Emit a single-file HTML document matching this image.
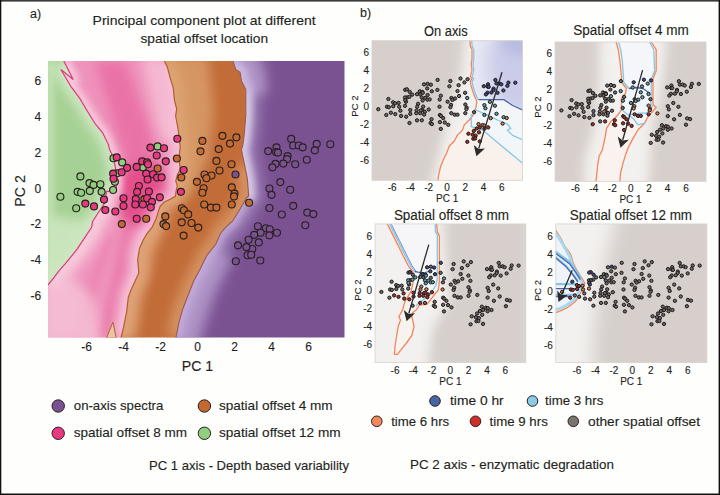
<!DOCTYPE html><html><head><meta charset="utf-8"><style>html,body{margin:0;padding:0;background:#fefefd;width:720px;height:495px;overflow:hidden}</style></head><body><svg width="720" height="495" viewBox="0 0 720 495" style="display:block;font-family:'Liberation Sans', sans-serif"><style>text{stroke:#231f20;stroke-width:0.12px;paint-order:stroke}</style>
<defs>
<filter id="bl6" filterUnits="userSpaceOnUse" x="0" y="0" width="720" height="495"><feGaussianBlur stdDeviation="6"/></filter>
<filter id="bl3" filterUnits="userSpaceOnUse" x="0" y="0" width="720" height="495"><feGaussianBlur stdDeviation="3"/></filter>
<filter id="bl9" filterUnits="userSpaceOnUse" x="0" y="0" width="720" height="495"><feGaussianBlur stdDeviation="9"/></filter>
<clipPath id="cpL"><rect x="48" y="61" width="296.5" height="276.5"/></clipPath>
</defs>
<rect x="0" y="0" width="720" height="495" fill="#fefefd"/>
<clipPath id="cG"><polygon points="40.0,55.0 63.8,61.0 73.2,79.5 60.9,69.5 71.0,86.7 79.6,98.2 88.2,112.5 95.3,124.0 102.5,132.6 108.2,144.1 109.7,149.8 112.5,155.5 115.4,167.0 116.8,184.2 115.4,191.4 106.5,191.4 105.5,197.7 104.4,203.6 97.1,214.5 92.5,221.8 91.6,227.3 84.4,238.2 77.1,249.1 69.8,258.2 65.3,263.6 58.9,270.9 53.5,278.2 48.0,285.0 40.0,285.0"/></clipPath>
<clipPath id="cP"><polygon points="40.0,55.0 63.8,61.0 73.2,79.5 60.9,69.5 71.0,86.7 79.6,98.2 88.2,112.5 95.3,124.0 102.5,132.6 108.2,144.1 109.7,149.8 112.5,155.5 115.4,167.0 116.8,184.2 115.4,191.4 106.5,191.4 105.5,197.7 104.4,203.6 97.1,214.5 92.5,221.8 91.6,227.3 84.4,238.2 77.1,249.1 69.8,258.2 65.3,263.6 58.9,270.9 53.5,278.2 48.0,285.0 40.0,285.0 40.0,345.0 121.0,338.0 123.4,327.9 126.7,311.7 128.3,297.2 130.7,290.7 138.8,272.9 137.7,260.0 138.3,255.8 139.5,248.5 143.2,240.0 146.8,233.9 152.0,227.5 156.0,219.0 158.1,212.4 160.1,206.4 164.1,202.3 170.2,199.3 175.3,196.3 176.3,190.2 177.3,186.2 175.8,181.1 177.3,175.0 180.2,169.6 179.1,158.0 180.2,146.4 179.1,137.1 177.9,127.8 175.6,116.1 176.7,109.2 174.4,99.9 173.3,88.2 169.8,76.6 167.4,67.3 164.4,61.0"/></clipPath>
<clipPath id="cB"><polygon points="164.4,61.0 167.4,67.3 169.8,76.6 173.3,88.2 174.4,99.9 176.7,109.2 175.6,116.1 177.9,127.8 179.1,137.1 180.2,146.4 179.1,158.0 180.2,169.6 177.3,175.0 175.8,181.1 177.3,186.2 176.3,190.2 175.3,196.3 170.2,199.3 164.1,202.3 160.1,206.4 158.1,212.4 156.0,219.0 152.0,227.5 146.8,233.9 143.2,240.0 139.5,248.5 138.3,255.8 137.7,260.0 138.8,272.9 130.7,290.7 128.3,297.2 126.7,311.7 123.4,327.9 121.0,338.0 175.9,338.0 179.2,321.4 182.4,310.0 188.0,295.5 193.7,281.0 200.2,268.9 206.7,255.6 210.0,251.4 216.0,243.8 220.6,233.2 225.2,227.9 232.7,221.0 240.2,208.8 246.4,198.0 248.7,195.7 247.3,178.5 244.4,164.1 241.5,149.8 243.0,144.1 244.4,132.6 245.8,115.4 245.8,89.6 241.5,81.0 240.1,72.3 235.8,69.5 232.9,61.0"/></clipPath>
<clipPath id="cV"><polygon points="232.9,61.0 235.8,69.5 240.1,72.3 241.5,81.0 245.8,89.6 245.8,115.4 244.4,132.6 243.0,144.1 241.5,149.8 244.4,164.1 247.3,178.5 248.7,195.7 246.4,198.0 240.2,208.8 232.7,221.0 225.2,227.9 220.6,233.2 216.0,243.8 210.0,251.4 206.7,255.6 200.2,268.9 193.7,281.0 188.0,295.5 182.4,310.0 179.2,321.4 175.9,338.0 350.0,345.0 350.0,55.0"/></clipPath>
<g clip-path="url(#cpL)">
<g clip-path="url(#cG)">
<rect x="40" y="55" width="200" height="290" fill="#a6d194"/>
<polyline points="63.8,61.0 73.2,79.5 60.9,69.5 71.0,86.7 79.6,98.2 88.2,112.5 95.3,124.0 102.5,132.6 108.2,144.1 109.7,149.8 112.5,155.5 115.4,167.0 116.8,184.2 115.4,191.4 106.5,191.4 105.5,197.7 104.4,203.6 97.1,214.5 92.5,221.8 91.6,227.3 84.4,238.2 77.1,249.1 69.8,258.2 65.3,263.6 58.9,270.9 53.5,278.2 48.0,285.0" fill="none" stroke="#e2f1d8" stroke-opacity="0.75" stroke-width="14" stroke-linejoin="round" filter="url(#bl6)"/>
<polyline points="50.0,61.0 50.0,290.0" fill="none" stroke="#cfe8c2" stroke-opacity="0.7" stroke-width="8" stroke-linejoin="round" filter="url(#bl3)"/>
<polygon points="48,215 95,222 60,270 48,284" fill="#d2e9c6" filter="url(#bl6)" opacity="0.8"/>
</g>
<g clip-path="url(#cP)">
<rect x="40" y="55" width="200" height="290" fill="#ef93bb"/>
<polygon points="95.0,61.0 125.0,61.0 150.0,130.0 165.0,200.0 150.0,230.0 128.0,215.0 125.0,160.0" fill="#e86aa0" filter="url(#bl6)" opacity="0.8"/>
<polygon points="128.0,205.0 146.0,205.0 116.0,337.0 100.0,337.0" fill="#e874a6" filter="url(#bl3)" opacity="0.75"/>
<polygon points="106.0,235.0 114.0,235.0 82.0,337.0 72.0,337.0" fill="#ea82ae" filter="url(#bl3)" opacity="0.6"/>
<ellipse cx="145" cy="195" rx="30" ry="32" fill="#e5508c" filter="url(#bl6)"/>
<polyline points="63.8,61.0 73.2,79.5 60.9,69.5 71.0,86.7 79.6,98.2 88.2,112.5 95.3,124.0 102.5,132.6 108.2,144.1 109.7,149.8 112.5,155.5 115.4,167.0 116.8,184.2 115.4,191.4 106.5,191.4 105.5,197.7 104.4,203.6 97.1,214.5 92.5,221.8 91.6,227.3 84.4,238.2 77.1,249.1 69.8,258.2 65.3,263.6 58.9,270.9 53.5,278.2 48.0,285.0" fill="none" stroke="#f9d0e0" stroke-opacity="0.85" stroke-width="12" stroke-linejoin="round" filter="url(#bl3)"/>
<polyline points="106.5,191.4 105.5,197.7 104.4,203.6 97.1,214.5 92.5,221.8 91.6,227.3 84.4,238.2 77.1,249.1 69.8,258.2 65.3,263.6 58.9,270.9 53.5,278.2 48.0,285.0" fill="none" stroke="#f7cadb" stroke-opacity="0.85" stroke-width="26" stroke-linejoin="round" filter="url(#bl6)"/>
<polyline points="164.4,61.0 167.4,67.3 169.8,76.6 173.3,88.2 174.4,99.9 176.7,109.2 175.6,116.1 177.9,127.8 179.1,137.1 180.2,146.4 179.1,158.0 180.2,169.6 177.3,175.0 175.8,181.1 177.3,186.2 176.3,190.2 175.3,196.3 170.2,199.3 164.1,202.3 160.1,206.4 158.1,212.4 156.0,219.0 152.0,227.5 146.8,233.9 143.2,240.0 139.5,248.5 138.3,255.8 137.7,260.0 138.8,272.9 130.7,290.7 128.3,297.2 126.7,311.7 123.4,327.9 121.0,338.0" fill="none" stroke="#f8cadd" stroke-opacity="0.85" stroke-width="18" stroke-linejoin="round" filter="url(#bl6)"/>
<polyline points="150.0,55.0 160.0,100.0 170.0,140.0" fill="none" stroke="#f7c6da" stroke-opacity="0.7" stroke-width="18" stroke-linejoin="round" filter="url(#bl6)"/>
<polygon points="40,290 70,275 95,300 100,345 40,345" fill="#f6c8da" filter="url(#bl6)" opacity="0.75"/>
</g>
<g clip-path="url(#cB)">
<rect x="110" y="55" width="150" height="290" fill="#c26c38"/>
<polyline points="164.4,61.0 167.4,67.3 169.8,76.6 173.3,88.2 174.4,99.9 176.7,109.2 175.6,116.1 177.9,127.8 179.1,137.1 180.2,146.4 179.1,158.0 180.2,169.6 177.3,175.0 175.8,181.1 177.3,186.2 176.3,190.2 175.3,196.3 170.2,199.3 164.1,202.3 160.1,206.4 158.1,212.4 156.0,219.0 152.0,227.5 146.8,233.9 143.2,240.0 139.5,248.5 138.3,255.8 137.7,260.0 138.8,272.9 130.7,290.7 128.3,297.2 126.7,311.7 123.4,327.9 121.0,338.0" fill="none" stroke="#e6b286" stroke-opacity="0.85" stroke-width="18" stroke-linejoin="round" filter="url(#bl6)"/>
<polygon points="160,55 208,55 214,110 208,160 190,195 170,200" fill="#dba472" filter="url(#bl6)" opacity="0.75"/>
<polyline points="158.0,212.0 146.0,240.0 140.0,262.0 130.0,295.0 124.0,338.0" fill="none" stroke="#dea276" stroke-opacity="0.7" stroke-width="22" stroke-linejoin="round" filter="url(#bl6)"/>
<polyline points="244.4,164.1 247.3,178.5 248.7,195.7 246.4,198.0 240.2,208.8 232.7,221.0 225.2,227.9 220.6,233.2 216.0,243.8 210.0,251.4 206.7,255.6 200.2,268.9 193.7,281.0 188.0,295.5 182.4,310.0 179.2,321.4 175.9,338.0" fill="none" stroke="#dca070" stroke-opacity="0.75" stroke-width="18" stroke-linejoin="round" filter="url(#bl6)"/>
</g>
<g clip-path="url(#cV)">
<rect x="170" y="55" width="180" height="290" fill="#7a5292"/>
<polyline points="232.9,61.0 235.8,69.5 240.1,72.3 241.5,81.0 245.8,89.6 245.8,115.4 244.4,132.6 243.0,144.1 241.5,149.8 244.4,164.1 247.3,178.5 248.7,195.7 246.4,198.0 240.2,208.8 232.7,221.0 225.2,227.9 220.6,233.2 216.0,243.8 210.0,251.4 206.7,255.6 200.2,268.9 193.7,281.0 188.0,295.5 182.4,310.0 179.2,321.4 175.9,338.0" fill="none" stroke="#b8a0d2" stroke-opacity="0.5" stroke-width="30" stroke-linejoin="round" filter="url(#bl6)"/>
<polyline points="232.9,61.0 235.8,69.5 240.1,72.3 241.5,81.0 245.8,89.6 245.8,115.4 244.4,132.6 243.0,144.1 241.5,149.8 244.4,164.1 247.3,178.5 248.7,195.7 246.4,198.0" fill="none" stroke="#ddd0ea" stroke-opacity="0.9" stroke-width="14" stroke-linejoin="round" filter="url(#bl3)"/>
<polyline points="246.4,198.0 240.2,208.8 232.7,221.0 225.2,227.9 220.6,233.2 216.0,243.8 210.0,251.4 206.7,255.6 200.2,268.9 193.7,281.0 188.0,295.5 182.4,310.0 179.2,321.4 175.9,338.0" fill="none" stroke="#c8b2de" stroke-opacity="0.75" stroke-width="12" stroke-linejoin="round" filter="url(#bl3)"/>
<polyline points="215.0,250.0 196.0,290.0 178.0,345.0" fill="none" stroke="#c4aedc" stroke-opacity="0.6" stroke-width="40" stroke-linejoin="round" filter="url(#bl6)"/>
<polyline points="240.0,50.0 250.0,72.0 252.0,95.0" fill="none" stroke="#c4aed9" stroke-opacity="0.6" stroke-width="32" stroke-linejoin="round" filter="url(#bl6)"/>
</g>
<polygon points="106.5,338 112.9,322.2 116.2,338" fill="#ecc6a4" stroke="#b0602e" stroke-width="1"/>
<polyline points="63.8,61.0 73.2,79.5 60.9,69.5 71.0,86.7 79.6,98.2 88.2,112.5 95.3,124.0 102.5,132.6 108.2,144.1 109.7,149.8 112.5,155.5 115.4,167.0 116.8,184.2 115.4,191.4 106.5,191.4 105.5,197.7 104.4,203.6 97.1,214.5 92.5,221.8 91.6,227.3 84.4,238.2 77.1,249.1 69.8,258.2 65.3,263.6 58.9,270.9 53.5,278.2 48.0,285.0" fill="none" stroke="#dc3a7c" stroke-width="1.2"/>
<polyline points="164.4,61.0 167.4,67.3 169.8,76.6 173.3,88.2 174.4,99.9 176.7,109.2 175.6,116.1 177.9,127.8 179.1,137.1 180.2,146.4 179.1,158.0 180.2,169.6 177.3,175.0 175.8,181.1 177.3,186.2 176.3,190.2 175.3,196.3 170.2,199.3 164.1,202.3 160.1,206.4 158.1,212.4 156.0,219.0 152.0,227.5 146.8,233.9 143.2,240.0 139.5,248.5 138.3,255.8 137.7,260.0 138.8,272.9 130.7,290.7 128.3,297.2 126.7,311.7 123.4,327.9 121.0,338.0" fill="none" stroke="#b0602e" stroke-width="1.2"/>
<polyline points="232.9,61.0 235.8,69.5 240.1,72.3 241.5,81.0 245.8,89.6 245.8,115.4 244.4,132.6 243.0,144.1 241.5,149.8 244.4,164.1 247.3,178.5 248.7,195.7 246.4,198.0 240.2,208.8 232.7,221.0 225.2,227.9 220.6,233.2 216.0,243.8 210.0,251.4 206.7,255.6 200.2,268.9 193.7,281.0 188.0,295.5 182.4,310.0 179.2,321.4 175.9,338.0" fill="none" stroke="#9a5a50" stroke-width="1.1"/>
<circle cx="291.2" cy="138.9" r="3.5" fill="#7a5292" stroke="#2a2020" stroke-width="1.15"/><circle cx="293.2" cy="145.5" r="3.5" fill="#7a5292" stroke="#2a2020" stroke-width="1.15"/><circle cx="298.8" cy="145.5" r="3.5" fill="#7a5292" stroke="#2a2020" stroke-width="1.15"/><circle cx="302.7" cy="147.3" r="3.5" fill="#7a5292" stroke="#2a2020" stroke-width="1.15"/><circle cx="316.7" cy="143.9" r="3.5" fill="#7a5292" stroke="#2a2020" stroke-width="1.15"/><circle cx="330.3" cy="144.2" r="3.5" fill="#7a5292" stroke="#2a2020" stroke-width="1.15"/><circle cx="314.8" cy="150.3" r="3.5" fill="#7a5292" stroke="#2a2020" stroke-width="1.15"/><circle cx="268.2" cy="151.1" r="3.5" fill="#7a5292" stroke="#2a2020" stroke-width="1.15"/><circle cx="276.5" cy="147.3" r="3.5" fill="#7a5292" stroke="#2a2020" stroke-width="1.15"/><circle cx="276.1" cy="152.1" r="3.5" fill="#7a5292" stroke="#2a2020" stroke-width="1.15"/><circle cx="278.0" cy="152.6" r="3.5" fill="#7a5292" stroke="#2a2020" stroke-width="1.15"/><circle cx="287.6" cy="156.1" r="3.5" fill="#7a5292" stroke="#2a2020" stroke-width="1.15"/><circle cx="287.1" cy="159.1" r="3.5" fill="#7a5292" stroke="#2a2020" stroke-width="1.15"/><circle cx="306.8" cy="159.7" r="3.5" fill="#7a5292" stroke="#2a2020" stroke-width="1.15"/><circle cx="275.5" cy="163.9" r="3.5" fill="#7a5292" stroke="#2a2020" stroke-width="1.15"/><circle cx="272.4" cy="167.3" r="3.5" fill="#7a5292" stroke="#2a2020" stroke-width="1.15"/><circle cx="283.3" cy="163.6" r="3.5" fill="#7a5292" stroke="#2a2020" stroke-width="1.15"/><circle cx="295.2" cy="164.2" r="3.5" fill="#7a5292" stroke="#2a2020" stroke-width="1.15"/><circle cx="280.3" cy="182.1" r="3.5" fill="#7a5292" stroke="#2a2020" stroke-width="1.15"/><circle cx="269.4" cy="188.5" r="3.5" fill="#7a5292" stroke="#2a2020" stroke-width="1.15"/><circle cx="271.5" cy="194.8" r="3.5" fill="#7a5292" stroke="#2a2020" stroke-width="1.15"/><circle cx="290.2" cy="189.7" r="3.5" fill="#7a5292" stroke="#2a2020" stroke-width="1.15"/><circle cx="269.4" cy="208.0" r="3.5" fill="#7a5292" stroke="#2a2020" stroke-width="1.15"/><circle cx="293.2" cy="205.8" r="3.5" fill="#7a5292" stroke="#2a2020" stroke-width="1.15"/><circle cx="281.8" cy="214.5" r="3.5" fill="#7a5292" stroke="#2a2020" stroke-width="1.15"/><circle cx="307.3" cy="212.6" r="3.5" fill="#7a5292" stroke="#2a2020" stroke-width="1.15"/><circle cx="313.3" cy="214.1" r="3.5" fill="#7a5292" stroke="#2a2020" stroke-width="1.15"/><circle cx="305.3" cy="225.2" r="3.5" fill="#7a5292" stroke="#2a2020" stroke-width="1.15"/><circle cx="257.9" cy="226.2" r="3.5" fill="#7a5292" stroke="#2a2020" stroke-width="1.15"/><circle cx="265.9" cy="228.2" r="3.5" fill="#7a5292" stroke="#2a2020" stroke-width="1.15"/><circle cx="269.7" cy="229.2" r="3.5" fill="#7a5292" stroke="#2a2020" stroke-width="1.15"/><circle cx="260.6" cy="232.7" r="3.5" fill="#7a5292" stroke="#2a2020" stroke-width="1.15"/><circle cx="269.4" cy="235.3" r="3.5" fill="#7a5292" stroke="#2a2020" stroke-width="1.15"/><circle cx="277.0" cy="232.7" r="3.5" fill="#7a5292" stroke="#2a2020" stroke-width="1.15"/><circle cx="254.2" cy="234.8" r="3.5" fill="#7a5292" stroke="#2a2020" stroke-width="1.15"/><circle cx="258.8" cy="242.4" r="3.5" fill="#7a5292" stroke="#2a2020" stroke-width="1.15"/><circle cx="252.3" cy="249.0" r="3.5" fill="#7a5292" stroke="#2a2020" stroke-width="1.15"/><circle cx="248.6" cy="239.7" r="3.5" fill="#7a5292" stroke="#2a2020" stroke-width="1.15"/><circle cx="238.0" cy="245.3" r="3.5" fill="#7a5292" stroke="#2a2020" stroke-width="1.15"/><circle cx="246.4" cy="247.1" r="3.5" fill="#7a5292" stroke="#2a2020" stroke-width="1.15"/><circle cx="247.6" cy="255.2" r="3.5" fill="#7a5292" stroke="#2a2020" stroke-width="1.15"/><circle cx="251.2" cy="254.7" r="3.5" fill="#7a5292" stroke="#2a2020" stroke-width="1.15"/><circle cx="235.8" cy="261.2" r="3.5" fill="#7a5292" stroke="#2a2020" stroke-width="1.15"/><circle cx="260.3" cy="260.5" r="3.5" fill="#7a5292" stroke="#2a2020" stroke-width="1.15"/>
<circle cx="235.5" cy="174.5" r="3.5" fill="#7a5292" stroke="#2a2020" stroke-width="1.15"/>
<circle cx="157.6" cy="168.5" r="3.5" fill="#c46a30" stroke="#2a2020" stroke-width="1.15"/><circle cx="144.4" cy="199.1" r="3.5" fill="#c46a30" stroke="#2a2020" stroke-width="1.15"/><circle cx="146.2" cy="218.7" r="3.5" fill="#c46a30" stroke="#2a2020" stroke-width="1.15"/><circle cx="165.3" cy="216.4" r="3.5" fill="#c46a30" stroke="#2a2020" stroke-width="1.15"/><circle cx="176.9" cy="158.5" r="3.5" fill="#c46a30" stroke="#2a2020" stroke-width="1.15"/><circle cx="181.3" cy="177.5" r="3.5" fill="#c46a30" stroke="#2a2020" stroke-width="1.15"/><circle cx="202.4" cy="140.9" r="3.5" fill="#c46a30" stroke="#2a2020" stroke-width="1.15"/><circle cx="222.4" cy="135.8" r="3.5" fill="#c46a30" stroke="#2a2020" stroke-width="1.15"/><circle cx="236.4" cy="137.3" r="3.5" fill="#c46a30" stroke="#2a2020" stroke-width="1.15"/><circle cx="230.0" cy="143.6" r="3.5" fill="#c46a30" stroke="#2a2020" stroke-width="1.15"/><circle cx="218.7" cy="149.1" r="3.5" fill="#c46a30" stroke="#2a2020" stroke-width="1.15"/><circle cx="200.5" cy="151.3" r="3.5" fill="#c46a30" stroke="#2a2020" stroke-width="1.15"/><circle cx="216.4" cy="160.9" r="3.5" fill="#c46a30" stroke="#2a2020" stroke-width="1.15"/><circle cx="231.5" cy="164.2" r="3.5" fill="#c46a30" stroke="#2a2020" stroke-width="1.15"/><circle cx="219.5" cy="170.5" r="3.5" fill="#c46a30" stroke="#2a2020" stroke-width="1.15"/><circle cx="204.5" cy="174.5" r="3.5" fill="#c46a30" stroke="#2a2020" stroke-width="1.15"/><circle cx="211.5" cy="175.5" r="3.5" fill="#c46a30" stroke="#2a2020" stroke-width="1.15"/><circle cx="206.4" cy="178.2" r="3.5" fill="#c46a30" stroke="#2a2020" stroke-width="1.15"/><circle cx="196.9" cy="181.8" r="3.5" fill="#c46a30" stroke="#2a2020" stroke-width="1.15"/><circle cx="203.6" cy="188.2" r="3.5" fill="#c46a30" stroke="#2a2020" stroke-width="1.15"/><circle cx="202.4" cy="192.7" r="3.5" fill="#c46a30" stroke="#2a2020" stroke-width="1.15"/><circle cx="231.8" cy="187.3" r="3.5" fill="#c46a30" stroke="#2a2020" stroke-width="1.15"/><circle cx="234.5" cy="193.6" r="3.5" fill="#c46a30" stroke="#2a2020" stroke-width="1.15"/><circle cx="234.0" cy="196.4" r="3.5" fill="#c46a30" stroke="#2a2020" stroke-width="1.15"/><circle cx="249.1" cy="202.7" r="3.5" fill="#c46a30" stroke="#2a2020" stroke-width="1.15"/><circle cx="204.2" cy="204.5" r="3.5" fill="#c46a30" stroke="#2a2020" stroke-width="1.15"/><circle cx="210.9" cy="207.6" r="3.5" fill="#c46a30" stroke="#2a2020" stroke-width="1.15"/><circle cx="216.4" cy="207.6" r="3.5" fill="#c46a30" stroke="#2a2020" stroke-width="1.15"/><circle cx="231.8" cy="204.5" r="3.5" fill="#c46a30" stroke="#2a2020" stroke-width="1.15"/><circle cx="181.8" cy="208.2" r="3.5" fill="#c46a30" stroke="#2a2020" stroke-width="1.15"/><circle cx="183.9" cy="210.2" r="3.5" fill="#c46a30" stroke="#2a2020" stroke-width="1.15"/><circle cx="188.2" cy="214.4" r="3.5" fill="#c46a30" stroke="#2a2020" stroke-width="1.15"/><circle cx="181.7" cy="222.3" r="3.5" fill="#c46a30" stroke="#2a2020" stroke-width="1.15"/><circle cx="191.5" cy="223.0" r="3.5" fill="#c46a30" stroke="#2a2020" stroke-width="1.15"/><circle cx="198.3" cy="227.6" r="3.5" fill="#c46a30" stroke="#2a2020" stroke-width="1.15"/><circle cx="163.5" cy="224.1" r="3.5" fill="#c46a30" stroke="#2a2020" stroke-width="1.15"/><circle cx="166.1" cy="226.1" r="3.5" fill="#c46a30" stroke="#2a2020" stroke-width="1.15"/><circle cx="183.6" cy="235.6" r="3.5" fill="#c46a30" stroke="#2a2020" stroke-width="1.15"/><circle cx="121.8" cy="224.1" r="3.5" fill="#c46a30" stroke="#2a2020" stroke-width="1.15"/>
<circle cx="157.6" cy="146.4" r="3.5" fill="#8fcf7e" stroke="#2a2020" stroke-width="1.15"/><circle cx="113.5" cy="158.2" r="3.5" fill="#8fcf7e" stroke="#2a2020" stroke-width="1.15"/><circle cx="122.2" cy="162.4" r="3.5" fill="#8fcf7e" stroke="#2a2020" stroke-width="1.15"/><circle cx="142.9" cy="167.3" r="3.5" fill="#8fcf7e" stroke="#2a2020" stroke-width="1.15"/><circle cx="117.1" cy="173.3" r="3.5" fill="#8fcf7e" stroke="#2a2020" stroke-width="1.15"/><circle cx="80.4" cy="176.4" r="3.5" fill="#8fcf7e" stroke="#2a2020" stroke-width="1.15"/><circle cx="89.5" cy="183.1" r="3.5" fill="#8fcf7e" stroke="#2a2020" stroke-width="1.15"/><circle cx="93.5" cy="184.9" r="3.5" fill="#8fcf7e" stroke="#2a2020" stroke-width="1.15"/><circle cx="100.4" cy="184.2" r="3.5" fill="#8fcf7e" stroke="#2a2020" stroke-width="1.15"/><circle cx="114.9" cy="181.8" r="3.5" fill="#8fcf7e" stroke="#2a2020" stroke-width="1.15"/><circle cx="77.6" cy="191.8" r="3.5" fill="#8fcf7e" stroke="#2a2020" stroke-width="1.15"/><circle cx="81.1" cy="192.7" r="3.5" fill="#8fcf7e" stroke="#2a2020" stroke-width="1.15"/><circle cx="89.8" cy="190.9" r="3.5" fill="#8fcf7e" stroke="#2a2020" stroke-width="1.15"/><circle cx="101.6" cy="191.8" r="3.5" fill="#8fcf7e" stroke="#2a2020" stroke-width="1.15"/><circle cx="113.1" cy="190.0" r="3.5" fill="#8fcf7e" stroke="#2a2020" stroke-width="1.15"/><circle cx="60.4" cy="196.7" r="3.5" fill="#8fcf7e" stroke="#2a2020" stroke-width="1.15"/><circle cx="76.2" cy="208.2" r="3.5" fill="#8fcf7e" stroke="#2a2020" stroke-width="1.15"/>
<circle cx="150.4" cy="147.6" r="3.5" fill="#e6397f" stroke="#2a2020" stroke-width="1.15"/><circle cx="164.0" cy="148.2" r="3.5" fill="#e6397f" stroke="#2a2020" stroke-width="1.15"/><circle cx="156.7" cy="155.5" r="3.5" fill="#e6397f" stroke="#2a2020" stroke-width="1.15"/><circle cx="116.7" cy="157.3" r="3.5" fill="#e6397f" stroke="#2a2020" stroke-width="1.15"/><circle cx="142.2" cy="161.3" r="3.5" fill="#e6397f" stroke="#2a2020" stroke-width="1.15"/><circle cx="147.1" cy="162.4" r="3.5" fill="#e6397f" stroke="#2a2020" stroke-width="1.15"/><circle cx="148.0" cy="164.2" r="3.5" fill="#e6397f" stroke="#2a2020" stroke-width="1.15"/><circle cx="165.8" cy="161.3" r="3.5" fill="#e6397f" stroke="#2a2020" stroke-width="1.15"/><circle cx="136.7" cy="166.9" r="3.5" fill="#e6397f" stroke="#2a2020" stroke-width="1.15"/><circle cx="127.1" cy="167.8" r="3.5" fill="#e6397f" stroke="#2a2020" stroke-width="1.15"/><circle cx="121.6" cy="172.2" r="3.5" fill="#e6397f" stroke="#2a2020" stroke-width="1.15"/><circle cx="113.1" cy="173.6" r="3.5" fill="#e6397f" stroke="#2a2020" stroke-width="1.15"/><circle cx="146.2" cy="173.6" r="3.5" fill="#e6397f" stroke="#2a2020" stroke-width="1.15"/><circle cx="153.1" cy="174.2" r="3.5" fill="#e6397f" stroke="#2a2020" stroke-width="1.15"/><circle cx="157.1" cy="177.6" r="3.5" fill="#e6397f" stroke="#2a2020" stroke-width="1.15"/><circle cx="161.6" cy="177.3" r="3.5" fill="#e6397f" stroke="#2a2020" stroke-width="1.15"/><circle cx="147.6" cy="179.5" r="3.5" fill="#e6397f" stroke="#2a2020" stroke-width="1.15"/><circle cx="113.5" cy="178.7" r="3.5" fill="#e6397f" stroke="#2a2020" stroke-width="1.15"/><circle cx="138.9" cy="186.0" r="3.5" fill="#e6397f" stroke="#2a2020" stroke-width="1.15"/><circle cx="137.1" cy="191.8" r="3.5" fill="#e6397f" stroke="#2a2020" stroke-width="1.15"/><circle cx="148.9" cy="191.5" r="3.5" fill="#e6397f" stroke="#2a2020" stroke-width="1.15"/><circle cx="159.8" cy="197.3" r="3.5" fill="#e6397f" stroke="#2a2020" stroke-width="1.15"/><circle cx="104.0" cy="199.6" r="3.5" fill="#e6397f" stroke="#2a2020" stroke-width="1.15"/><circle cx="123.5" cy="198.2" r="3.5" fill="#e6397f" stroke="#2a2020" stroke-width="1.15"/><circle cx="135.8" cy="199.1" r="3.5" fill="#e6397f" stroke="#2a2020" stroke-width="1.15"/><circle cx="147.1" cy="198.2" r="3.5" fill="#e6397f" stroke="#2a2020" stroke-width="1.15"/><circle cx="152.0" cy="201.8" r="3.5" fill="#e6397f" stroke="#2a2020" stroke-width="1.15"/><circle cx="85.3" cy="203.6" r="3.5" fill="#e6397f" stroke="#2a2020" stroke-width="1.15"/><circle cx="94.0" cy="206.4" r="3.5" fill="#e6397f" stroke="#2a2020" stroke-width="1.15"/><circle cx="135.3" cy="204.5" r="3.5" fill="#e6397f" stroke="#2a2020" stroke-width="1.15"/><circle cx="142.9" cy="204.5" r="3.5" fill="#e6397f" stroke="#2a2020" stroke-width="1.15"/><circle cx="123.5" cy="206.0" r="3.5" fill="#e6397f" stroke="#2a2020" stroke-width="1.15"/><circle cx="150.7" cy="207.3" r="3.5" fill="#e6397f" stroke="#2a2020" stroke-width="1.15"/><circle cx="105.3" cy="210.0" r="3.5" fill="#e6397f" stroke="#2a2020" stroke-width="1.15"/><circle cx="115.3" cy="211.5" r="3.5" fill="#e6397f" stroke="#2a2020" stroke-width="1.15"/><circle cx="136.7" cy="218.7" r="3.5" fill="#e6397f" stroke="#2a2020" stroke-width="1.15"/><circle cx="177.3" cy="138.7" r="3.5" fill="#e6397f" stroke="#2a2020" stroke-width="1.15"/><circle cx="183.6" cy="170.0" r="3.5" fill="#e6397f" stroke="#2a2020" stroke-width="1.15"/><circle cx="180.9" cy="191.8" r="3.5" fill="#e6397f" stroke="#2a2020" stroke-width="1.15"/>
</g>
<text x="86.7" y="350.5" font-size="12" text-anchor="middle" fill="#231f20" >-6</text>
<text x="123.7" y="350.5" font-size="12" text-anchor="middle" fill="#231f20" >-4</text>
<text x="160.6" y="350.5" font-size="12" text-anchor="middle" fill="#231f20" >-2</text>
<text x="197.6" y="350.5" font-size="12" text-anchor="middle" fill="#231f20" >0</text>
<text x="234.6" y="350.5" font-size="12" text-anchor="middle" fill="#231f20" >2</text>
<text x="271.5" y="350.5" font-size="12" text-anchor="middle" fill="#231f20" >4</text>
<text x="308.5" y="350.5" font-size="12" text-anchor="middle" fill="#231f20" >6</text>
<text x="41.2" y="300.3" font-size="12" text-anchor="end" fill="#231f20" >-6</text>
<text x="41.2" y="264.4" font-size="12" text-anchor="end" fill="#231f20" >-4</text>
<text x="41.2" y="228.4" font-size="12" text-anchor="end" fill="#231f20" >-2</text>
<text x="41.2" y="192.5" font-size="12" text-anchor="end" fill="#231f20" >0</text>
<text x="41.2" y="156.6" font-size="12" text-anchor="end" fill="#231f20" >2</text>
<text x="41.2" y="120.6" font-size="12" text-anchor="end" fill="#231f20" >4</text>
<text x="41.2" y="84.7" font-size="12" text-anchor="end" fill="#231f20" >6</text>
<text x="197.5" y="371" font-size="14.2" text-anchor="middle" fill="#231f20" >PC 1</text>
<text transform="translate(25,191) rotate(-90)" font-size="14.2" text-anchor="middle" fill="#231f20">PC 2</text>
<text x="30" y="17.5" font-size="12.5" text-anchor="start" fill="#231f20" >a)</text>
<text x="92.6" y="25.2" font-size="13" text-anchor="start" fill="#231f20" textLength="223" lengthAdjust="spacingAndGlyphs" >Principal component plot at different</text>
<text x="140.5" y="42.5" font-size="13" text-anchor="start" fill="#231f20" textLength="127.5" lengthAdjust="spacingAndGlyphs" >spatial offset location</text>
<circle cx="58.2" cy="406" r="6.2" fill="#7a5292" stroke="#2a2020" stroke-width="1"/>
<text x="73.8" y="410.0" font-size="13" text-anchor="start" fill="#231f20" textLength="89.5" lengthAdjust="spacingAndGlyphs" >on-axis spectra</text>
<circle cx="58.2" cy="433.3" r="6.2" fill="#e6397f" stroke="#2a2020" stroke-width="1"/>
<text x="73.8" y="437.3" font-size="13" text-anchor="start" fill="#231f20" textLength="113.2" lengthAdjust="spacingAndGlyphs" >spatial offset 8 mm</text>
<circle cx="204.4" cy="406" r="6.2" fill="#c46a30" stroke="#2a2020" stroke-width="1"/>
<text x="218.9" y="410.0" font-size="13" text-anchor="start" fill="#231f20" textLength="113.8" lengthAdjust="spacingAndGlyphs" >spatial offset 4 mm</text>
<circle cx="204.4" cy="433.3" r="6.2" fill="#8fcf7e" stroke="#2a2020" stroke-width="1"/>
<text x="218.9" y="437.3" font-size="13" text-anchor="start" fill="#231f20" textLength="121.8" lengthAdjust="spacingAndGlyphs" >spatial offset 12 mm</text>
<text x="149" y="470" font-size="13" text-anchor="start" fill="#231f20" textLength="200" lengthAdjust="spacingAndGlyphs" >PC 1 axis - Depth based variability</text>
<circle cx="435" cy="401" r="5.3" fill="#4a64a8" stroke="#2a2020" stroke-width="1"/>
<text x="450" y="405.2" font-size="12.5" text-anchor="start" fill="#231f20" textLength="53.7" lengthAdjust="spacingAndGlyphs" >time 0 hr</text>
<circle cx="532.5" cy="401" r="5.3" fill="#8ecbe6" stroke="#2a2020" stroke-width="1"/>
<text x="545" y="405.2" font-size="12.5" text-anchor="start" fill="#231f20" textLength="58.3" lengthAdjust="spacingAndGlyphs" >time 3 hrs</text>
<circle cx="376.8" cy="421.3" r="5.3" fill="#f08a5a" stroke="#2a2020" stroke-width="1"/>
<text x="391.2" y="425.5" font-size="12.5" text-anchor="start" fill="#231f20" textLength="58" lengthAdjust="spacingAndGlyphs" >time 6 hrs</text>
<circle cx="475.5" cy="421.3" r="5.3" fill="#d0302a" stroke="#2a2020" stroke-width="1"/>
<text x="489.5" y="425.5" font-size="12.5" text-anchor="start" fill="#231f20" textLength="58.3" lengthAdjust="spacingAndGlyphs" >time 9 hrs</text>
<circle cx="573.3" cy="421.3" r="5.3" fill="#7a7470" stroke="#2a2020" stroke-width="1"/>
<text x="588" y="425.5" font-size="12.5" text-anchor="start" fill="#231f20" textLength="112" lengthAdjust="spacingAndGlyphs" >other spatial offset</text>
<text x="410" y="469" font-size="13" text-anchor="start" fill="#231f20" textLength="204" lengthAdjust="spacingAndGlyphs" >PC 2 axis - enzymatic degradation</text>
<text x="360" y="17.4" font-size="12.5" text-anchor="start" fill="#231f20" >b)</text>
<clipPath id="cp1"><rect x="372" y="40.7" width="150.5" height="139.60000000000002"/></clipPath>
<g clip-path="url(#cp1)">
<rect x="372" y="40" width="151" height="141" fill="#d6cfcb"/><polygon points="465.0,30.0 462.0,70.0 450.0,111.0 432.0,181.0 425.0,190.0 530.0,190.0 530.0,30.0" fill="#f3f1ef" filter="url(#bl6)"/><polygon points="469.9,40.0 470.3,46.1 472.0,49.3 472.0,59.0 471.2,63.8 472.0,70.3 470.3,76.8 472.0,78.4 470.3,81.6 471.2,86.5 472.8,91.3 475.2,97.8 476.8,101.0 476.0,107.5 474.4,112.3 472.8,115.5 469.2,120.0 464.3,124.9 462.5,130.1 457.2,135.4 454.6,140.7 449.3,146.0 446.7,153.0 443.2,160.0 440.5,167.1 438.8,174.1 437.9,181.0 530.0,181.0 530.0,40.0" fill="#f9f1ec"/><polygon points="471.7,40.0 472.1,46.1 473.8,49.3 473.8,59.0 473.0,63.8 473.8,70.3 472.1,76.8 473.8,78.4 472.1,81.6 473.0,86.5 474.6,91.3 477.0,97.8 478.5,99.6 478.5,99.6 503.8,99.6 512.6,105.5 523.0,110.2 523.0,40.0" fill="#e9eaf5"/><ellipse cx="520" cy="65" rx="34" ry="50" fill="#cacce9" filter="url(#bl9)"/><ellipse cx="522" cy="42" rx="20" ry="14" fill="#b8bce0" filter="url(#bl6)"/><polygon points="477.5,100.3 474.8,105.5 472.2,114.3 471.3,126.6 482.7,130.1 493.3,138.9 503.8,147.7 514.4,156.5 523.0,163.5 523.0,110.2 512.6,105.5 503.8,99.6 478.5,99.6" fill="#f2f6f9"/><polyline points="469.9,40.0 470.3,46.1 472.0,49.3 472.0,59.0 471.2,63.8 472.0,70.3 470.3,76.8 472.0,78.4 470.3,81.6 471.2,86.5 472.8,91.3 475.2,97.8 476.8,101.0 476.0,107.5 474.4,112.3 472.8,115.5 469.2,120.0 464.3,124.9 462.5,130.1 457.2,135.4 454.6,140.7 449.3,146.0 446.7,153.0 443.2,160.0 440.5,167.1 438.8,174.1 437.9,181.0" fill="none" stroke="#f4845a" stroke-width="1.3" stroke-linejoin="round"/><polyline points="471.7,40.0 472.1,46.1 473.8,49.3 473.8,59.0 473.0,63.8 473.8,70.3 472.1,76.8 473.8,78.4 472.1,81.6 473.0,86.5 474.6,91.3 477.0,97.8 478.5,99.6" fill="none" stroke="#86c6e4" stroke-width="1.3" stroke-linejoin="round"/><polyline points="478.5,99.6 503.8,99.6 512.6,105.5 523.0,110.2" fill="none" stroke="#4c62a8" stroke-width="1.3" stroke-linejoin="round"/><polyline points="474.5,109.0 478.3,111.2 489.8,116.1 498.5,120.5 507.3,124.0 510.8,128.4 507.3,130.1 512.6,135.4 523.0,140.0" fill="none" stroke="#86c6e4" stroke-width="1.3" stroke-linejoin="round"/><polyline points="471.3,114.3 471.3,126.6 482.7,130.1 493.3,138.9 503.8,147.7 514.4,156.5 523.0,163.5" fill="none" stroke="#86c6e4" stroke-width="1.3" stroke-linejoin="round"/>
<circle cx="427.6" cy="83.8" r="1.65" fill="#6e6966" stroke="#1e1a1a" stroke-width="1"/><circle cx="405.2" cy="89.8" r="1.65" fill="#6e6966" stroke="#1e1a1a" stroke-width="1"/><circle cx="409.7" cy="91.9" r="1.65" fill="#6e6966" stroke="#1e1a1a" stroke-width="1"/><circle cx="420.2" cy="94.4" r="1.65" fill="#6e6966" stroke="#1e1a1a" stroke-width="1"/><circle cx="407.1" cy="97.4" r="1.65" fill="#6e6966" stroke="#1e1a1a" stroke-width="1"/><circle cx="388.4" cy="99.0" r="1.65" fill="#6e6966" stroke="#1e1a1a" stroke-width="1"/><circle cx="393.1" cy="102.3" r="1.65" fill="#6e6966" stroke="#1e1a1a" stroke-width="1"/><circle cx="395.1" cy="103.3" r="1.65" fill="#6e6966" stroke="#1e1a1a" stroke-width="1"/><circle cx="398.6" cy="102.9" r="1.65" fill="#6e6966" stroke="#1e1a1a" stroke-width="1"/><circle cx="406.0" cy="101.7" r="1.65" fill="#6e6966" stroke="#1e1a1a" stroke-width="1"/><circle cx="387.0" cy="106.7" r="1.65" fill="#6e6966" stroke="#1e1a1a" stroke-width="1"/><circle cx="388.8" cy="107.2" r="1.65" fill="#6e6966" stroke="#1e1a1a" stroke-width="1"/><circle cx="393.2" cy="106.3" r="1.65" fill="#6e6966" stroke="#1e1a1a" stroke-width="1"/><circle cx="399.2" cy="106.7" r="1.65" fill="#6e6966" stroke="#1e1a1a" stroke-width="1"/><circle cx="405.0" cy="105.8" r="1.65" fill="#6e6966" stroke="#1e1a1a" stroke-width="1"/><circle cx="378.3" cy="109.2" r="1.65" fill="#6e6966" stroke="#1e1a1a" stroke-width="1"/><circle cx="386.3" cy="115.0" r="1.65" fill="#6e6966" stroke="#1e1a1a" stroke-width="1"/><circle cx="424.0" cy="84.4" r="1.65" fill="#6e6966" stroke="#1e1a1a" stroke-width="1"/><circle cx="430.9" cy="84.7" r="1.65" fill="#6e6966" stroke="#1e1a1a" stroke-width="1"/><circle cx="427.2" cy="88.4" r="1.65" fill="#6e6966" stroke="#1e1a1a" stroke-width="1"/><circle cx="406.9" cy="89.3" r="1.65" fill="#6e6966" stroke="#1e1a1a" stroke-width="1"/><circle cx="419.8" cy="91.3" r="1.65" fill="#6e6966" stroke="#1e1a1a" stroke-width="1"/><circle cx="422.3" cy="91.9" r="1.65" fill="#6e6966" stroke="#1e1a1a" stroke-width="1"/><circle cx="422.8" cy="92.8" r="1.65" fill="#6e6966" stroke="#1e1a1a" stroke-width="1"/><circle cx="431.8" cy="91.3" r="1.65" fill="#6e6966" stroke="#1e1a1a" stroke-width="1"/><circle cx="417.0" cy="94.2" r="1.65" fill="#6e6966" stroke="#1e1a1a" stroke-width="1"/><circle cx="412.2" cy="94.6" r="1.65" fill="#6e6966" stroke="#1e1a1a" stroke-width="1"/><circle cx="409.4" cy="96.8" r="1.65" fill="#6e6966" stroke="#1e1a1a" stroke-width="1"/><circle cx="405.0" cy="97.5" r="1.65" fill="#6e6966" stroke="#1e1a1a" stroke-width="1"/><circle cx="421.8" cy="97.5" r="1.65" fill="#6e6966" stroke="#1e1a1a" stroke-width="1"/><circle cx="425.3" cy="97.9" r="1.65" fill="#6e6966" stroke="#1e1a1a" stroke-width="1"/><circle cx="427.4" cy="99.6" r="1.65" fill="#6e6966" stroke="#1e1a1a" stroke-width="1"/><circle cx="429.7" cy="99.4" r="1.65" fill="#6e6966" stroke="#1e1a1a" stroke-width="1"/><circle cx="422.6" cy="100.5" r="1.65" fill="#6e6966" stroke="#1e1a1a" stroke-width="1"/><circle cx="405.2" cy="100.1" r="1.65" fill="#6e6966" stroke="#1e1a1a" stroke-width="1"/><circle cx="418.1" cy="103.8" r="1.65" fill="#6e6966" stroke="#1e1a1a" stroke-width="1"/><circle cx="417.2" cy="106.7" r="1.65" fill="#6e6966" stroke="#1e1a1a" stroke-width="1"/><circle cx="423.2" cy="106.6" r="1.65" fill="#6e6966" stroke="#1e1a1a" stroke-width="1"/><circle cx="428.7" cy="109.5" r="1.65" fill="#6e6966" stroke="#1e1a1a" stroke-width="1"/><circle cx="400.4" cy="110.7" r="1.65" fill="#6e6966" stroke="#1e1a1a" stroke-width="1"/><circle cx="410.3" cy="110.0" r="1.65" fill="#6e6966" stroke="#1e1a1a" stroke-width="1"/><circle cx="416.6" cy="110.4" r="1.65" fill="#6e6966" stroke="#1e1a1a" stroke-width="1"/><circle cx="422.3" cy="110.0" r="1.65" fill="#6e6966" stroke="#1e1a1a" stroke-width="1"/><circle cx="424.8" cy="111.8" r="1.65" fill="#6e6966" stroke="#1e1a1a" stroke-width="1"/><circle cx="390.9" cy="112.7" r="1.65" fill="#6e6966" stroke="#1e1a1a" stroke-width="1"/><circle cx="395.3" cy="114.1" r="1.65" fill="#6e6966" stroke="#1e1a1a" stroke-width="1"/><circle cx="416.3" cy="113.2" r="1.65" fill="#6e6966" stroke="#1e1a1a" stroke-width="1"/><circle cx="420.2" cy="113.2" r="1.65" fill="#6e6966" stroke="#1e1a1a" stroke-width="1"/><circle cx="410.3" cy="113.9" r="1.65" fill="#6e6966" stroke="#1e1a1a" stroke-width="1"/><circle cx="424.1" cy="114.6" r="1.65" fill="#6e6966" stroke="#1e1a1a" stroke-width="1"/><circle cx="401.1" cy="115.9" r="1.65" fill="#6e6966" stroke="#1e1a1a" stroke-width="1"/><circle cx="406.2" cy="116.7" r="1.65" fill="#6e6966" stroke="#1e1a1a" stroke-width="1"/><circle cx="417.0" cy="120.3" r="1.65" fill="#6e6966" stroke="#1e1a1a" stroke-width="1"/><circle cx="437.6" cy="79.9" r="1.65" fill="#6e6966" stroke="#1e1a1a" stroke-width="1"/><circle cx="440.8" cy="95.7" r="1.65" fill="#6e6966" stroke="#1e1a1a" stroke-width="1"/><circle cx="439.5" cy="106.7" r="1.65" fill="#6e6966" stroke="#1e1a1a" stroke-width="1"/><circle cx="427.6" cy="95.0" r="1.65" fill="#6e6966" stroke="#1e1a1a" stroke-width="1"/><circle cx="420.9" cy="110.4" r="1.65" fill="#6e6966" stroke="#1e1a1a" stroke-width="1"/><circle cx="421.8" cy="120.3" r="1.65" fill="#6e6966" stroke="#1e1a1a" stroke-width="1"/><circle cx="431.5" cy="119.2" r="1.65" fill="#6e6966" stroke="#1e1a1a" stroke-width="1"/><circle cx="437.4" cy="89.9" r="1.65" fill="#6e6966" stroke="#1e1a1a" stroke-width="1"/><circle cx="439.7" cy="99.5" r="1.65" fill="#6e6966" stroke="#1e1a1a" stroke-width="1"/><circle cx="450.4" cy="81.0" r="1.65" fill="#6e6966" stroke="#1e1a1a" stroke-width="1"/><circle cx="460.5" cy="78.5" r="1.65" fill="#6e6966" stroke="#1e1a1a" stroke-width="1"/><circle cx="467.6" cy="79.2" r="1.65" fill="#6e6966" stroke="#1e1a1a" stroke-width="1"/><circle cx="464.4" cy="82.4" r="1.65" fill="#6e6966" stroke="#1e1a1a" stroke-width="1"/><circle cx="458.6" cy="85.2" r="1.65" fill="#6e6966" stroke="#1e1a1a" stroke-width="1"/><circle cx="449.4" cy="86.3" r="1.65" fill="#6e6966" stroke="#1e1a1a" stroke-width="1"/><circle cx="457.5" cy="91.1" r="1.65" fill="#6e6966" stroke="#1e1a1a" stroke-width="1"/><circle cx="465.1" cy="92.8" r="1.65" fill="#6e6966" stroke="#1e1a1a" stroke-width="1"/><circle cx="459.1" cy="96.0" r="1.65" fill="#6e6966" stroke="#1e1a1a" stroke-width="1"/><circle cx="451.4" cy="98.0" r="1.65" fill="#6e6966" stroke="#1e1a1a" stroke-width="1"/><circle cx="455.0" cy="98.5" r="1.65" fill="#6e6966" stroke="#1e1a1a" stroke-width="1"/><circle cx="452.4" cy="99.9" r="1.65" fill="#6e6966" stroke="#1e1a1a" stroke-width="1"/><circle cx="447.6" cy="101.7" r="1.65" fill="#6e6966" stroke="#1e1a1a" stroke-width="1"/><circle cx="451.0" cy="104.9" r="1.65" fill="#6e6966" stroke="#1e1a1a" stroke-width="1"/><circle cx="450.4" cy="107.2" r="1.65" fill="#6e6966" stroke="#1e1a1a" stroke-width="1"/><circle cx="465.3" cy="104.5" r="1.65" fill="#6e6966" stroke="#1e1a1a" stroke-width="1"/><circle cx="466.7" cy="107.6" r="1.65" fill="#6e6966" stroke="#1e1a1a" stroke-width="1"/><circle cx="466.4" cy="109.1" r="1.65" fill="#6e6966" stroke="#1e1a1a" stroke-width="1"/><circle cx="474.1" cy="112.2" r="1.65" fill="#6e6966" stroke="#1e1a1a" stroke-width="1"/><circle cx="451.3" cy="113.2" r="1.65" fill="#6e6966" stroke="#1e1a1a" stroke-width="1"/><circle cx="454.7" cy="114.7" r="1.65" fill="#6e6966" stroke="#1e1a1a" stroke-width="1"/><circle cx="457.5" cy="114.7" r="1.65" fill="#6e6966" stroke="#1e1a1a" stroke-width="1"/><circle cx="465.3" cy="113.2" r="1.65" fill="#6e6966" stroke="#1e1a1a" stroke-width="1"/><circle cx="439.9" cy="115.0" r="1.65" fill="#6e6966" stroke="#1e1a1a" stroke-width="1"/><circle cx="441.0" cy="116.0" r="1.65" fill="#6e6966" stroke="#1e1a1a" stroke-width="1"/><circle cx="443.2" cy="118.1" r="1.65" fill="#6e6966" stroke="#1e1a1a" stroke-width="1"/><circle cx="439.9" cy="122.1" r="1.65" fill="#6e6966" stroke="#1e1a1a" stroke-width="1"/><circle cx="444.8" cy="122.5" r="1.65" fill="#6e6966" stroke="#1e1a1a" stroke-width="1"/><circle cx="448.3" cy="124.8" r="1.65" fill="#6e6966" stroke="#1e1a1a" stroke-width="1"/><circle cx="430.6" cy="123.0" r="1.65" fill="#6e6966" stroke="#1e1a1a" stroke-width="1"/><circle cx="431.9" cy="124.1" r="1.65" fill="#6e6966" stroke="#1e1a1a" stroke-width="1"/><circle cx="440.8" cy="128.9" r="1.65" fill="#6e6966" stroke="#1e1a1a" stroke-width="1"/><circle cx="409.5" cy="123.0" r="1.65" fill="#6e6966" stroke="#1e1a1a" stroke-width="1"/>
<circle cx="495.4" cy="80.0" r="1.65" fill="#3a4a86" stroke="#1e1a1a" stroke-width="1"/><circle cx="496.5" cy="83.4" r="1.65" fill="#3a4a86" stroke="#1e1a1a" stroke-width="1"/><circle cx="499.3" cy="83.4" r="1.65" fill="#3a4a86" stroke="#1e1a1a" stroke-width="1"/><circle cx="501.3" cy="84.3" r="1.65" fill="#3a4a86" stroke="#1e1a1a" stroke-width="1"/><circle cx="508.4" cy="82.6" r="1.65" fill="#3a4a86" stroke="#1e1a1a" stroke-width="1"/><circle cx="515.3" cy="82.7" r="1.65" fill="#3a4a86" stroke="#1e1a1a" stroke-width="1"/><circle cx="507.4" cy="85.8" r="1.65" fill="#3a4a86" stroke="#1e1a1a" stroke-width="1"/><circle cx="483.8" cy="86.2" r="1.65" fill="#3a4a86" stroke="#1e1a1a" stroke-width="1"/><circle cx="488.0" cy="84.3" r="1.65" fill="#3a4a86" stroke="#1e1a1a" stroke-width="1"/><circle cx="487.8" cy="86.7" r="1.65" fill="#3a4a86" stroke="#1e1a1a" stroke-width="1"/><circle cx="488.7" cy="86.9" r="1.65" fill="#3a4a86" stroke="#1e1a1a" stroke-width="1"/><circle cx="493.6" cy="88.7" r="1.65" fill="#3a4a86" stroke="#1e1a1a" stroke-width="1"/><circle cx="493.4" cy="90.2" r="1.65" fill="#3a4a86" stroke="#1e1a1a" stroke-width="1"/><circle cx="503.4" cy="90.5" r="1.65" fill="#3a4a86" stroke="#1e1a1a" stroke-width="1"/><circle cx="487.5" cy="92.7" r="1.65" fill="#3a4a86" stroke="#1e1a1a" stroke-width="1"/><circle cx="485.9" cy="94.4" r="1.65" fill="#3a4a86" stroke="#1e1a1a" stroke-width="1"/><circle cx="491.4" cy="92.5" r="1.65" fill="#3a4a86" stroke="#1e1a1a" stroke-width="1"/><circle cx="497.5" cy="92.8" r="1.65" fill="#3a4a86" stroke="#1e1a1a" stroke-width="1"/><circle cx="489.9" cy="101.8" r="1.65" fill="#5e9ea8" stroke="#1e1a1a" stroke-width="1"/><circle cx="484.4" cy="105.1" r="1.65" fill="#5e9ea8" stroke="#1e1a1a" stroke-width="1"/><circle cx="485.4" cy="108.3" r="1.65" fill="#5e9ea8" stroke="#1e1a1a" stroke-width="1"/><circle cx="494.9" cy="105.7" r="1.65" fill="#5e9ea8" stroke="#1e1a1a" stroke-width="1"/><circle cx="484.4" cy="114.9" r="1.65" fill="#5e9ea8" stroke="#1e1a1a" stroke-width="1"/><circle cx="496.5" cy="113.8" r="1.65" fill="#5e9ea8" stroke="#1e1a1a" stroke-width="1"/><circle cx="490.7" cy="118.2" r="1.65" fill="#d07a44" stroke="#1e1a1a" stroke-width="1"/><circle cx="503.6" cy="117.2" r="1.65" fill="#5e9ea8" stroke="#1e1a1a" stroke-width="1"/><circle cx="506.7" cy="118.0" r="1.65" fill="#d07a44" stroke="#1e1a1a" stroke-width="1"/><circle cx="502.6" cy="123.6" r="1.65" fill="#d07a44" stroke="#1e1a1a" stroke-width="1"/><circle cx="478.5" cy="124.1" r="1.65" fill="#d07a44" stroke="#1e1a1a" stroke-width="1"/><circle cx="482.6" cy="125.1" r="1.65" fill="#d07a44" stroke="#1e1a1a" stroke-width="1"/><circle cx="484.5" cy="125.6" r="1.65" fill="#d07a44" stroke="#1e1a1a" stroke-width="1"/><circle cx="479.9" cy="127.4" r="1.65" fill="#a82c26" stroke="#1e1a1a" stroke-width="1"/><circle cx="484.4" cy="128.7" r="1.65" fill="#a82c26" stroke="#1e1a1a" stroke-width="1"/><circle cx="488.2" cy="127.4" r="1.65" fill="#a82c26" stroke="#1e1a1a" stroke-width="1"/><circle cx="476.7" cy="128.4" r="1.65" fill="#a82c26" stroke="#1e1a1a" stroke-width="1"/><circle cx="479.0" cy="132.3" r="1.65" fill="#a82c26" stroke="#1e1a1a" stroke-width="1"/><circle cx="475.7" cy="135.6" r="1.65" fill="#a82c26" stroke="#1e1a1a" stroke-width="1"/><circle cx="473.8" cy="130.9" r="1.65" fill="#a82c26" stroke="#1e1a1a" stroke-width="1"/><circle cx="468.4" cy="133.7" r="1.65" fill="#a82c26" stroke="#1e1a1a" stroke-width="1"/><circle cx="472.7" cy="134.7" r="1.65" fill="#a82c26" stroke="#1e1a1a" stroke-width="1"/><circle cx="473.3" cy="138.7" r="1.65" fill="#a82c26" stroke="#1e1a1a" stroke-width="1"/><circle cx="475.1" cy="138.5" r="1.65" fill="#a82c26" stroke="#1e1a1a" stroke-width="1"/><circle cx="467.3" cy="141.8" r="1.65" fill="#a82c26" stroke="#1e1a1a" stroke-width="1"/><circle cx="479.8" cy="141.4" r="1.65" fill="#a82c26" stroke="#1e1a1a" stroke-width="1"/><circle cx="467.2" cy="98.0" r="1.65" fill="#5e9ea8" stroke="#1e1a1a" stroke-width="1"/>
<line x1="502" y1="72.2" x2="478.7" y2="148.6" stroke="#2b2b2b" stroke-width="1.3"/><polygon points="476.4,156.3 473.8,145.0 478.6,149.1 484.9,148.4" fill="#2b2b2b"/>
</g>
<rect x="372" y="40.7" width="150.5" height="139.60000000000002" fill="none" stroke="#d8d2ce" stroke-width="0.8"/>
<text x="392.1" y="190.5" font-size="10" text-anchor="middle" fill="#231f20" >-6</text>
<text x="369.0" y="164.4" font-size="10" text-anchor="end" fill="#231f20" >-6</text>
<text x="410.4" y="190.5" font-size="10" text-anchor="middle" fill="#231f20" >-4</text>
<text x="369.0" y="146.3" font-size="10" text-anchor="end" fill="#231f20" >-4</text>
<text x="428.7" y="190.5" font-size="10" text-anchor="middle" fill="#231f20" >-2</text>
<text x="369.0" y="128.3" font-size="10" text-anchor="end" fill="#231f20" >-2</text>
<text x="447.0" y="190.5" font-size="10" text-anchor="middle" fill="#231f20" >0</text>
<text x="369.0" y="110.2" font-size="10" text-anchor="end" fill="#231f20" >0</text>
<text x="465.3" y="190.5" font-size="10" text-anchor="middle" fill="#231f20" >2</text>
<text x="369.0" y="92.1" font-size="10" text-anchor="end" fill="#231f20" >2</text>
<text x="483.6" y="190.5" font-size="10" text-anchor="middle" fill="#231f20" >4</text>
<text x="369.0" y="74.1" font-size="10" text-anchor="end" fill="#231f20" >4</text>
<text x="501.9" y="190.5" font-size="10" text-anchor="middle" fill="#231f20" >6</text>
<text x="369.0" y="56.0" font-size="10" text-anchor="end" fill="#231f20" >6</text>
<text x="447.2" y="202.3" font-size="10" text-anchor="middle" fill="#231f20" >PC 1</text>
<text transform="translate(357.5,106.1) rotate(-90)" font-size="9.5" text-anchor="middle" fill="#231f20">PC 2</text>
<text x="445.8" y="35.6" font-size="14" text-anchor="middle" fill="#231f20" textLength="43.7" lengthAdjust="spacingAndGlyphs" >On axis</text>
<clipPath id="cp2"><rect x="555.1" y="42" width="150.89999999999998" height="139.3"/></clipPath>
<g clip-path="url(#cp2)">
<rect x="555" y="41" width="152" height="142" fill="#d6cfcb"/><polygon points="600.0,30.0 599.0,80.0 598.0,110.0 592.0,135.0 584.0,160.0 584.0,190.0 648.0,190.0 652.0,126.0 660.0,100.0 665.0,60.0 667.0,30.0" fill="#f3f1ef" filter="url(#bl6)"/><polygon points="615.8,41.0 618.3,49.7 619.9,61.0 621.5,77.2 621.5,82.0 626.3,88.5 625.5,93.3 621.5,98.2 621.5,107.9 621.5,109.9 616.5,116.6 611.5,120.7 606.6,128.1 604.9,138.1 602.4,149.7 599.1,156.3 597.5,166.2 596.6,176.2 595.8,182.0 619.8,182.0 620.6,172.8 623.1,162.9 625.6,154.6 628.1,148.0 631.4,141.4 634.7,135.6 638.0,129.8 644.6,123.2 648.0,116.6 656.2,107.5 653.0,104.6 653.0,78.8 656.2,70.7 656.2,49.7 650.6,41.0" fill="#f9f2ee"/><polygon points="618.3,41.0 620.7,49.7 622.3,61.0 623.5,77.2 623.5,82.0 628.8,88.5 628.8,88.5 636.0,87.5 643.0,88.5 649.8,93.3 653.0,107.5 651.0,104.6 651.4,78.8 654.6,70.7 653.8,49.7 649.0,41.0" fill="#f5f6fa"/><polygon points="628.8,88.5 636.0,87.5 643.0,88.5 649.8,93.3 653.0,107.5 644.6,123.2 638.0,124.8 622.3,110.0 621.5,98.2 625.5,93.3" fill="#f1f6fa"/><polyline points="615.8,41.0 618.3,49.7 619.9,61.0 621.5,77.2 621.5,82.0 626.3,88.5 625.5,93.3 621.5,98.2 621.5,107.9 621.5,109.9 616.5,116.6 611.5,120.7 606.6,128.1 604.9,138.1 602.4,149.7 599.1,156.3 597.5,166.2 596.6,176.2 595.8,182.0" fill="none" stroke="#f4845a" stroke-width="1.3" stroke-linejoin="round"/><polyline points="650.6,41.0 656.2,49.7 656.2,70.7 653.0,78.8 653.0,104.6 656.2,107.5 648.0,116.6 644.6,123.2 638.0,129.8 634.7,135.6 631.4,141.4 628.1,148.0 625.6,154.6 623.1,162.9 620.6,172.8 619.8,182.0" fill="none" stroke="#f4845a" stroke-width="1.3" stroke-linejoin="round"/><polyline points="618.3,41.0 620.7,49.7 622.3,61.0 623.5,77.2 623.5,82.0 628.8,88.5" fill="none" stroke="#86c6e4" stroke-width="1.3" stroke-linejoin="round"/><polyline points="649.0,41.0 653.8,49.7 654.6,70.7 651.4,78.8 651.0,104.6 653.0,107.5" fill="none" stroke="#86c6e4" stroke-width="1.3" stroke-linejoin="round"/><polyline points="628.8,88.5 636.0,87.5 643.0,88.5 649.8,93.3" fill="none" stroke="#4c62a8" stroke-width="1.3" stroke-linejoin="round"/><polyline points="622.3,110.0 628.1,114.9 633.0,118.2 638.0,124.8 644.6,123.2" fill="none" stroke="#86c6e4" stroke-width="1.3" stroke-linejoin="round"/><polyline points="628.1,114.9 639.7,113.2 646.3,113.2 650.0,110.0" fill="none" stroke="#86c6e4" stroke-width="1.3" stroke-linejoin="round"/>
<circle cx="610.9" cy="85.0" r="1.65" fill="#6e6966" stroke="#1e1a1a" stroke-width="1"/><circle cx="588.4" cy="91.0" r="1.65" fill="#6e6966" stroke="#1e1a1a" stroke-width="1"/><circle cx="592.9" cy="93.1" r="1.65" fill="#6e6966" stroke="#1e1a1a" stroke-width="1"/><circle cx="603.4" cy="95.6" r="1.65" fill="#6e6966" stroke="#1e1a1a" stroke-width="1"/><circle cx="590.3" cy="98.6" r="1.65" fill="#6e6966" stroke="#1e1a1a" stroke-width="1"/><circle cx="571.6" cy="100.1" r="1.65" fill="#6e6966" stroke="#1e1a1a" stroke-width="1"/><circle cx="576.2" cy="103.5" r="1.65" fill="#6e6966" stroke="#1e1a1a" stroke-width="1"/><circle cx="578.3" cy="104.4" r="1.65" fill="#6e6966" stroke="#1e1a1a" stroke-width="1"/><circle cx="581.8" cy="104.1" r="1.65" fill="#6e6966" stroke="#1e1a1a" stroke-width="1"/><circle cx="589.1" cy="102.9" r="1.65" fill="#6e6966" stroke="#1e1a1a" stroke-width="1"/><circle cx="570.2" cy="107.9" r="1.65" fill="#6e6966" stroke="#1e1a1a" stroke-width="1"/><circle cx="571.9" cy="108.4" r="1.65" fill="#6e6966" stroke="#1e1a1a" stroke-width="1"/><circle cx="576.4" cy="107.4" r="1.65" fill="#6e6966" stroke="#1e1a1a" stroke-width="1"/><circle cx="582.4" cy="107.9" r="1.65" fill="#6e6966" stroke="#1e1a1a" stroke-width="1"/><circle cx="588.2" cy="107.0" r="1.65" fill="#6e6966" stroke="#1e1a1a" stroke-width="1"/><circle cx="561.4" cy="110.4" r="1.65" fill="#6e6966" stroke="#1e1a1a" stroke-width="1"/><circle cx="569.5" cy="116.2" r="1.65" fill="#6e6966" stroke="#1e1a1a" stroke-width="1"/><circle cx="607.2" cy="85.6" r="1.65" fill="#6e6966" stroke="#1e1a1a" stroke-width="1"/><circle cx="614.1" cy="85.9" r="1.65" fill="#6e6966" stroke="#1e1a1a" stroke-width="1"/><circle cx="610.4" cy="89.6" r="1.65" fill="#6e6966" stroke="#1e1a1a" stroke-width="1"/><circle cx="590.1" cy="90.5" r="1.65" fill="#6e6966" stroke="#1e1a1a" stroke-width="1"/><circle cx="603.0" cy="92.5" r="1.65" fill="#6e6966" stroke="#1e1a1a" stroke-width="1"/><circle cx="605.5" cy="93.1" r="1.65" fill="#6e6966" stroke="#1e1a1a" stroke-width="1"/><circle cx="606.0" cy="94.0" r="1.65" fill="#6e6966" stroke="#1e1a1a" stroke-width="1"/><circle cx="615.1" cy="92.5" r="1.65" fill="#6e6966" stroke="#1e1a1a" stroke-width="1"/><circle cx="600.2" cy="95.4" r="1.65" fill="#6e6966" stroke="#1e1a1a" stroke-width="1"/><circle cx="595.4" cy="95.8" r="1.65" fill="#6e6966" stroke="#1e1a1a" stroke-width="1"/><circle cx="592.6" cy="98.0" r="1.65" fill="#6e6966" stroke="#1e1a1a" stroke-width="1"/><circle cx="588.2" cy="98.7" r="1.65" fill="#6e6966" stroke="#1e1a1a" stroke-width="1"/><circle cx="605.1" cy="98.7" r="1.65" fill="#6e6966" stroke="#1e1a1a" stroke-width="1"/><circle cx="608.6" cy="99.0" r="1.65" fill="#6e6966" stroke="#1e1a1a" stroke-width="1"/><circle cx="610.6" cy="100.7" r="1.65" fill="#6e6966" stroke="#1e1a1a" stroke-width="1"/><circle cx="612.9" cy="100.6" r="1.65" fill="#6e6966" stroke="#1e1a1a" stroke-width="1"/><circle cx="605.8" cy="101.7" r="1.65" fill="#6e6966" stroke="#1e1a1a" stroke-width="1"/><circle cx="588.4" cy="101.3" r="1.65" fill="#6e6966" stroke="#1e1a1a" stroke-width="1"/><circle cx="601.4" cy="105.0" r="1.65" fill="#6e6966" stroke="#1e1a1a" stroke-width="1"/><circle cx="600.4" cy="107.9" r="1.65" fill="#6e6966" stroke="#1e1a1a" stroke-width="1"/><circle cx="606.5" cy="107.7" r="1.65" fill="#6e6966" stroke="#1e1a1a" stroke-width="1"/><circle cx="612.0" cy="110.7" r="1.65" fill="#6e6966" stroke="#1e1a1a" stroke-width="1"/><circle cx="583.6" cy="111.8" r="1.65" fill="#6e6966" stroke="#1e1a1a" stroke-width="1"/><circle cx="593.5" cy="111.1" r="1.65" fill="#6e6966" stroke="#1e1a1a" stroke-width="1"/><circle cx="599.8" cy="111.6" r="1.65" fill="#6e6966" stroke="#1e1a1a" stroke-width="1"/><circle cx="605.5" cy="111.1" r="1.65" fill="#6e6966" stroke="#1e1a1a" stroke-width="1"/><circle cx="608.0" cy="112.9" r="1.65" fill="#6e6966" stroke="#1e1a1a" stroke-width="1"/><circle cx="574.1" cy="113.8" r="1.65" fill="#6e6966" stroke="#1e1a1a" stroke-width="1"/><circle cx="578.5" cy="115.3" r="1.65" fill="#6e6966" stroke="#1e1a1a" stroke-width="1"/><circle cx="599.5" cy="114.3" r="1.65" fill="#6e6966" stroke="#1e1a1a" stroke-width="1"/><circle cx="603.4" cy="114.3" r="1.65" fill="#6e6966" stroke="#1e1a1a" stroke-width="1"/><circle cx="593.5" cy="115.1" r="1.65" fill="#6e6966" stroke="#1e1a1a" stroke-width="1"/><circle cx="607.4" cy="115.7" r="1.65" fill="#6e6966" stroke="#1e1a1a" stroke-width="1"/><circle cx="584.3" cy="117.1" r="1.65" fill="#6e6966" stroke="#1e1a1a" stroke-width="1"/><circle cx="589.4" cy="117.8" r="1.65" fill="#6e6966" stroke="#1e1a1a" stroke-width="1"/><circle cx="600.2" cy="121.4" r="1.65" fill="#6e6966" stroke="#1e1a1a" stroke-width="1"/><circle cx="620.9" cy="81.1" r="1.65" fill="#6e6966" stroke="#1e1a1a" stroke-width="1"/><circle cx="624.1" cy="96.9" r="1.65" fill="#6e6966" stroke="#1e1a1a" stroke-width="1"/><circle cx="622.7" cy="107.9" r="1.65" fill="#6e6966" stroke="#1e1a1a" stroke-width="1"/><circle cx="678.9" cy="81.2" r="1.65" fill="#6e6966" stroke="#1e1a1a" stroke-width="1"/><circle cx="679.9" cy="84.6" r="1.65" fill="#6e6966" stroke="#1e1a1a" stroke-width="1"/><circle cx="682.7" cy="84.6" r="1.65" fill="#6e6966" stroke="#1e1a1a" stroke-width="1"/><circle cx="684.7" cy="85.5" r="1.65" fill="#6e6966" stroke="#1e1a1a" stroke-width="1"/><circle cx="691.9" cy="83.8" r="1.65" fill="#6e6966" stroke="#1e1a1a" stroke-width="1"/><circle cx="698.8" cy="83.9" r="1.65" fill="#6e6966" stroke="#1e1a1a" stroke-width="1"/><circle cx="690.9" cy="87.0" r="1.65" fill="#6e6966" stroke="#1e1a1a" stroke-width="1"/><circle cx="667.2" cy="87.4" r="1.65" fill="#6e6966" stroke="#1e1a1a" stroke-width="1"/><circle cx="671.4" cy="85.5" r="1.65" fill="#6e6966" stroke="#1e1a1a" stroke-width="1"/><circle cx="671.2" cy="87.9" r="1.65" fill="#6e6966" stroke="#1e1a1a" stroke-width="1"/><circle cx="672.2" cy="88.1" r="1.65" fill="#6e6966" stroke="#1e1a1a" stroke-width="1"/><circle cx="677.0" cy="89.9" r="1.65" fill="#6e6966" stroke="#1e1a1a" stroke-width="1"/><circle cx="676.8" cy="91.4" r="1.65" fill="#6e6966" stroke="#1e1a1a" stroke-width="1"/><circle cx="686.8" cy="91.7" r="1.65" fill="#6e6966" stroke="#1e1a1a" stroke-width="1"/><circle cx="670.9" cy="93.8" r="1.65" fill="#6e6966" stroke="#1e1a1a" stroke-width="1"/><circle cx="669.3" cy="95.6" r="1.65" fill="#6e6966" stroke="#1e1a1a" stroke-width="1"/><circle cx="674.9" cy="93.7" r="1.65" fill="#6e6966" stroke="#1e1a1a" stroke-width="1"/><circle cx="680.9" cy="94.0" r="1.65" fill="#6e6966" stroke="#1e1a1a" stroke-width="1"/><circle cx="673.3" cy="103.0" r="1.65" fill="#6e6966" stroke="#1e1a1a" stroke-width="1"/><circle cx="667.8" cy="106.2" r="1.65" fill="#6e6966" stroke="#1e1a1a" stroke-width="1"/><circle cx="668.8" cy="109.4" r="1.65" fill="#6e6966" stroke="#1e1a1a" stroke-width="1"/><circle cx="678.4" cy="106.8" r="1.65" fill="#6e6966" stroke="#1e1a1a" stroke-width="1"/><circle cx="667.8" cy="116.1" r="1.65" fill="#6e6966" stroke="#1e1a1a" stroke-width="1"/><circle cx="679.9" cy="114.9" r="1.65" fill="#6e6966" stroke="#1e1a1a" stroke-width="1"/><circle cx="674.1" cy="119.3" r="1.65" fill="#6e6966" stroke="#1e1a1a" stroke-width="1"/><circle cx="687.1" cy="118.4" r="1.65" fill="#6e6966" stroke="#1e1a1a" stroke-width="1"/><circle cx="690.1" cy="119.1" r="1.65" fill="#6e6966" stroke="#1e1a1a" stroke-width="1"/><circle cx="686.0" cy="124.7" r="1.65" fill="#6e6966" stroke="#1e1a1a" stroke-width="1"/><circle cx="661.9" cy="125.2" r="1.65" fill="#6e6966" stroke="#1e1a1a" stroke-width="1"/><circle cx="666.0" cy="126.2" r="1.65" fill="#6e6966" stroke="#1e1a1a" stroke-width="1"/><circle cx="667.9" cy="126.7" r="1.65" fill="#6e6966" stroke="#1e1a1a" stroke-width="1"/><circle cx="663.3" cy="128.5" r="1.65" fill="#6e6966" stroke="#1e1a1a" stroke-width="1"/><circle cx="667.8" cy="129.8" r="1.65" fill="#6e6966" stroke="#1e1a1a" stroke-width="1"/><circle cx="671.6" cy="128.5" r="1.65" fill="#6e6966" stroke="#1e1a1a" stroke-width="1"/><circle cx="660.0" cy="129.6" r="1.65" fill="#6e6966" stroke="#1e1a1a" stroke-width="1"/><circle cx="662.4" cy="133.4" r="1.65" fill="#6e6966" stroke="#1e1a1a" stroke-width="1"/><circle cx="659.1" cy="136.7" r="1.65" fill="#6e6966" stroke="#1e1a1a" stroke-width="1"/><circle cx="657.2" cy="132.0" r="1.65" fill="#6e6966" stroke="#1e1a1a" stroke-width="1"/><circle cx="651.8" cy="134.8" r="1.65" fill="#6e6966" stroke="#1e1a1a" stroke-width="1"/><circle cx="656.1" cy="135.8" r="1.65" fill="#6e6966" stroke="#1e1a1a" stroke-width="1"/><circle cx="656.7" cy="139.8" r="1.65" fill="#6e6966" stroke="#1e1a1a" stroke-width="1"/><circle cx="658.5" cy="139.6" r="1.65" fill="#6e6966" stroke="#1e1a1a" stroke-width="1"/><circle cx="650.7" cy="142.9" r="1.65" fill="#6e6966" stroke="#1e1a1a" stroke-width="1"/><circle cx="663.1" cy="142.5" r="1.65" fill="#6e6966" stroke="#1e1a1a" stroke-width="1"/><circle cx="650.5" cy="99.2" r="1.65" fill="#6e6966" stroke="#1e1a1a" stroke-width="1"/>
<circle cx="610.9" cy="96.2" r="1.65" fill="#5e9ea8" stroke="#1e1a1a" stroke-width="1"/><circle cx="604.2" cy="111.6" r="1.65" fill="#d07a44" stroke="#1e1a1a" stroke-width="1"/><circle cx="605.1" cy="121.4" r="1.65" fill="#a82c26" stroke="#1e1a1a" stroke-width="1"/><circle cx="614.8" cy="120.3" r="1.65" fill="#a82c26" stroke="#1e1a1a" stroke-width="1"/><circle cx="620.7" cy="91.1" r="1.65" fill="#5e9ea8" stroke="#1e1a1a" stroke-width="1"/><circle cx="622.9" cy="100.7" r="1.65" fill="#5e9ea8" stroke="#1e1a1a" stroke-width="1"/><circle cx="633.7" cy="82.3" r="1.65" fill="#3a4a86" stroke="#1e1a1a" stroke-width="1"/><circle cx="643.9" cy="79.7" r="1.65" fill="#3a4a86" stroke="#1e1a1a" stroke-width="1"/><circle cx="651.0" cy="80.4" r="1.65" fill="#3a4a86" stroke="#1e1a1a" stroke-width="1"/><circle cx="647.7" cy="83.6" r="1.65" fill="#5e9ea8" stroke="#1e1a1a" stroke-width="1"/><circle cx="642.0" cy="86.4" r="1.65" fill="#5e9ea8" stroke="#1e1a1a" stroke-width="1"/><circle cx="632.7" cy="87.5" r="1.65" fill="#5e9ea8" stroke="#1e1a1a" stroke-width="1"/><circle cx="640.8" cy="92.3" r="1.65" fill="#5e9ea8" stroke="#1e1a1a" stroke-width="1"/><circle cx="648.5" cy="94.0" r="1.65" fill="#5e9ea8" stroke="#1e1a1a" stroke-width="1"/><circle cx="642.4" cy="97.2" r="1.65" fill="#5e9ea8" stroke="#1e1a1a" stroke-width="1"/><circle cx="634.7" cy="99.2" r="1.65" fill="#5e9ea8" stroke="#1e1a1a" stroke-width="1"/><circle cx="638.3" cy="99.7" r="1.65" fill="#5e9ea8" stroke="#1e1a1a" stroke-width="1"/><circle cx="635.7" cy="101.0" r="1.65" fill="#5e9ea8" stroke="#1e1a1a" stroke-width="1"/><circle cx="630.9" cy="102.9" r="1.65" fill="#5e9ea8" stroke="#1e1a1a" stroke-width="1"/><circle cx="634.3" cy="106.1" r="1.65" fill="#d07a44" stroke="#1e1a1a" stroke-width="1"/><circle cx="633.7" cy="108.4" r="1.65" fill="#d07a44" stroke="#1e1a1a" stroke-width="1"/><circle cx="648.6" cy="105.6" r="1.65" fill="#d07a44" stroke="#1e1a1a" stroke-width="1"/><circle cx="650.0" cy="108.8" r="1.65" fill="#d07a44" stroke="#1e1a1a" stroke-width="1"/><circle cx="649.8" cy="110.2" r="1.65" fill="#d07a44" stroke="#1e1a1a" stroke-width="1"/><circle cx="657.4" cy="113.4" r="1.65" fill="#d07a44" stroke="#1e1a1a" stroke-width="1"/><circle cx="634.6" cy="114.3" r="1.65" fill="#a82c26" stroke="#1e1a1a" stroke-width="1"/><circle cx="638.0" cy="115.9" r="1.65" fill="#a82c26" stroke="#1e1a1a" stroke-width="1"/><circle cx="640.8" cy="115.9" r="1.65" fill="#a82c26" stroke="#1e1a1a" stroke-width="1"/><circle cx="648.6" cy="114.3" r="1.65" fill="#a82c26" stroke="#1e1a1a" stroke-width="1"/><circle cx="623.2" cy="116.2" r="1.65" fill="#a82c26" stroke="#1e1a1a" stroke-width="1"/><circle cx="624.3" cy="117.2" r="1.65" fill="#a82c26" stroke="#1e1a1a" stroke-width="1"/><circle cx="626.5" cy="119.3" r="1.65" fill="#a82c26" stroke="#1e1a1a" stroke-width="1"/><circle cx="623.1" cy="123.3" r="1.65" fill="#a82c26" stroke="#1e1a1a" stroke-width="1"/><circle cx="628.1" cy="123.6" r="1.65" fill="#a82c26" stroke="#1e1a1a" stroke-width="1"/><circle cx="631.6" cy="125.9" r="1.65" fill="#a82c26" stroke="#1e1a1a" stroke-width="1"/><circle cx="613.9" cy="124.2" r="1.65" fill="#a82c26" stroke="#1e1a1a" stroke-width="1"/><circle cx="615.2" cy="125.2" r="1.65" fill="#a82c26" stroke="#1e1a1a" stroke-width="1"/><circle cx="624.1" cy="130.0" r="1.65" fill="#a82c26" stroke="#1e1a1a" stroke-width="1"/><circle cx="592.7" cy="124.2" r="1.65" fill="#a82c26" stroke="#1e1a1a" stroke-width="1"/>
<line x1="642.6" y1="70.1" x2="622.7" y2="140.0" stroke="#2b2b2b" stroke-width="1.3"/><polygon points="620.5,147.7 617.7,136.5 622.6,140.5 628.8,139.7" fill="#2b2b2b"/>
</g>
<rect x="555.1" y="42" width="150.89999999999998" height="139.3" fill="none" stroke="#d8d2ce" stroke-width="0.8"/>
<text x="575.4" y="191.8" font-size="10" text-anchor="middle" fill="#231f20" >-6</text>
<text x="552.1" y="165.4" font-size="10" text-anchor="end" fill="#231f20" >-6</text>
<text x="593.8" y="191.8" font-size="10" text-anchor="middle" fill="#231f20" >-4</text>
<text x="552.1" y="147.3" font-size="10" text-anchor="end" fill="#231f20" >-4</text>
<text x="612.3" y="191.8" font-size="10" text-anchor="middle" fill="#231f20" >-2</text>
<text x="552.1" y="129.3" font-size="10" text-anchor="end" fill="#231f20" >-2</text>
<text x="630.7" y="191.8" font-size="10" text-anchor="middle" fill="#231f20" >0</text>
<text x="552.1" y="111.2" font-size="10" text-anchor="end" fill="#231f20" >0</text>
<text x="649.1" y="191.8" font-size="10" text-anchor="middle" fill="#231f20" >2</text>
<text x="552.1" y="93.1" font-size="10" text-anchor="end" fill="#231f20" >2</text>
<text x="667.6" y="191.8" font-size="10" text-anchor="middle" fill="#231f20" >4</text>
<text x="552.1" y="75.1" font-size="10" text-anchor="end" fill="#231f20" >4</text>
<text x="686.0" y="191.8" font-size="10" text-anchor="middle" fill="#231f20" >6</text>
<text x="552.1" y="57.0" font-size="10" text-anchor="end" fill="#231f20" >6</text>
<text x="630.5" y="203.3" font-size="10" text-anchor="middle" fill="#231f20" >PC 1</text>
<text transform="translate(540.6,107.1) rotate(-90)" font-size="9.5" text-anchor="middle" fill="#231f20">PC 2</text>
<text x="631" y="35.4" font-size="14" text-anchor="middle" fill="#231f20" textLength="115.6" lengthAdjust="spacingAndGlyphs" >Spatial offset 4 mm</text>
<clipPath id="cp3"><rect x="375.1" y="223.9" width="150.69999999999993" height="138.6"/></clipPath>
<g clip-path="url(#cp3)">
<rect x="375" y="223" width="151" height="140" fill="#f3f1ef"/><polygon points="443.0,215.0 530.0,215.0 530.0,370.0 428.0,370.0 432.0,330.0 450.0,300.0 446.0,260.0" fill="#d6cfcb" filter="url(#bl6)"/><polygon points="386.5,223.0 387.8,224.8 391.3,231.9 395.6,240.4 399.8,248.9 404.0,257.4 408.3,265.8 412.5,271.5 413.2,281.4 411.3,290.9 405.0,301.4 402.7,309.7 398.9,316.5 400.5,320.3 398.2,326.4 396.7,335.5 395.2,344.5 394.4,354.4 397.4,354.4 402.7,347.6 406.5,343.0 411.8,335.5 414.1,326.4 411.8,316.5 412.6,312.7 416.4,309.7 419.4,305.2 427.0,304.4 434.5,294.5 438.3,290.0 439.4,281.4 439.4,236.1 437.3,231.9 436.6,223.0" fill="#f9f3ef"/><polygon points="389.0,223.0 390.0,224.8 393.5,231.9 397.8,240.4 402.0,248.9 406.2,257.4 410.5,265.8 414.5,271.5 414.5,271.5 418.2,272.2 424.0,273.0 430.0,271.0 436.0,275.0 437.3,234.7 435.4,231.9 435.2,223.0" fill="#f6f6f9"/><polygon points="414.5,271.5 418.2,272.2 430.0,271.0 437.3,278.6 436.0,285.0 430.0,295.0 420.0,302.0 416.0,306.0 412.0,290.0" fill="#f1f6f9"/><polyline points="386.5,223.0 387.8,224.8 391.3,231.9 395.6,240.4 399.8,248.9 404.0,257.4 408.3,265.8 412.5,271.5 413.2,281.4 411.3,290.9 405.0,301.4 402.7,309.7 398.9,316.5 400.5,320.3 398.2,326.4 396.7,335.5 395.2,344.5 394.4,354.4 397.4,354.4 402.7,347.6 406.5,343.0 411.8,335.5 414.1,326.4 411.8,316.5 412.6,312.7 416.4,309.7 419.4,305.2 427.0,304.4 434.5,294.5 438.3,290.0 439.4,281.4 439.4,236.1 437.3,231.9 436.6,223.0 386.5,223.0" fill="none" stroke="#f4845a" stroke-width="1.3" stroke-linejoin="round"/><polyline points="389.0,223.0 390.0,224.8 393.5,231.9 397.8,240.4 402.0,248.9 406.2,257.4 410.5,265.8 414.5,271.5" fill="none" stroke="#86c6e4" stroke-width="1.3" stroke-linejoin="round"/><polyline points="390.6,223.0 391.6,224.8 395.1,231.9 399.4,240.4 403.6,248.9 407.8,257.4 412.1,265.8 416.1,271.5" fill="none" stroke="#6a8ec8" stroke-width="1" stroke-linejoin="round"/><polyline points="435.2,223.0 435.4,231.9 437.3,234.7 437.3,278.6 436.0,285.0 430.0,295.0 420.0,302.0 416.0,306.0" fill="none" stroke="#86c6e4" stroke-width="1.3" stroke-linejoin="round"/><polyline points="414.5,271.5 418.2,272.2 424.0,273.0 430.0,271.0" fill="none" stroke="#4c62a8" stroke-width="1.3" stroke-linejoin="round"/>
<circle cx="430.8" cy="266.7" r="1.65" fill="#6e6966" stroke="#1e1a1a" stroke-width="1"/><circle cx="408.4" cy="272.6" r="1.65" fill="#6e6966" stroke="#1e1a1a" stroke-width="1"/><circle cx="412.8" cy="274.7" r="1.65" fill="#6e6966" stroke="#1e1a1a" stroke-width="1"/><circle cx="423.3" cy="277.2" r="1.65" fill="#6e6966" stroke="#1e1a1a" stroke-width="1"/><circle cx="410.2" cy="280.2" r="1.65" fill="#6e6966" stroke="#1e1a1a" stroke-width="1"/><circle cx="391.6" cy="281.7" r="1.65" fill="#6e6966" stroke="#1e1a1a" stroke-width="1"/><circle cx="396.2" cy="285.1" r="1.65" fill="#6e6966" stroke="#1e1a1a" stroke-width="1"/><circle cx="398.2" cy="286.0" r="1.65" fill="#6e6966" stroke="#1e1a1a" stroke-width="1"/><circle cx="401.7" cy="285.7" r="1.65" fill="#6e6966" stroke="#1e1a1a" stroke-width="1"/><circle cx="409.1" cy="284.5" r="1.65" fill="#6e6966" stroke="#1e1a1a" stroke-width="1"/><circle cx="390.1" cy="289.5" r="1.65" fill="#6e6966" stroke="#1e1a1a" stroke-width="1"/><circle cx="391.9" cy="289.9" r="1.65" fill="#6e6966" stroke="#1e1a1a" stroke-width="1"/><circle cx="396.3" cy="289.0" r="1.65" fill="#6e6966" stroke="#1e1a1a" stroke-width="1"/><circle cx="402.3" cy="289.5" r="1.65" fill="#6e6966" stroke="#1e1a1a" stroke-width="1"/><circle cx="408.2" cy="288.6" r="1.65" fill="#6e6966" stroke="#1e1a1a" stroke-width="1"/><circle cx="381.4" cy="291.9" r="1.65" fill="#6e6966" stroke="#1e1a1a" stroke-width="1"/><circle cx="389.4" cy="297.7" r="1.65" fill="#6e6966" stroke="#1e1a1a" stroke-width="1"/><circle cx="430.8" cy="277.8" r="1.65" fill="#6e6966" stroke="#1e1a1a" stroke-width="1"/><circle cx="424.1" cy="293.1" r="1.65" fill="#6e6966" stroke="#1e1a1a" stroke-width="1"/><circle cx="425.0" cy="302.9" r="1.65" fill="#6e6966" stroke="#1e1a1a" stroke-width="1"/><circle cx="434.7" cy="301.8" r="1.65" fill="#6e6966" stroke="#1e1a1a" stroke-width="1"/><circle cx="440.6" cy="272.8" r="1.65" fill="#6e6966" stroke="#1e1a1a" stroke-width="1"/><circle cx="442.9" cy="282.3" r="1.65" fill="#6e6966" stroke="#1e1a1a" stroke-width="1"/><circle cx="453.6" cy="264.0" r="1.65" fill="#6e6966" stroke="#1e1a1a" stroke-width="1"/><circle cx="463.7" cy="261.4" r="1.65" fill="#6e6966" stroke="#1e1a1a" stroke-width="1"/><circle cx="470.9" cy="262.1" r="1.65" fill="#6e6966" stroke="#1e1a1a" stroke-width="1"/><circle cx="467.6" cy="265.3" r="1.65" fill="#6e6966" stroke="#1e1a1a" stroke-width="1"/><circle cx="461.9" cy="268.1" r="1.65" fill="#6e6966" stroke="#1e1a1a" stroke-width="1"/><circle cx="452.6" cy="269.2" r="1.65" fill="#6e6966" stroke="#1e1a1a" stroke-width="1"/><circle cx="460.7" cy="274.0" r="1.65" fill="#6e6966" stroke="#1e1a1a" stroke-width="1"/><circle cx="468.4" cy="275.6" r="1.65" fill="#6e6966" stroke="#1e1a1a" stroke-width="1"/><circle cx="462.3" cy="278.8" r="1.65" fill="#6e6966" stroke="#1e1a1a" stroke-width="1"/><circle cx="454.6" cy="280.8" r="1.65" fill="#6e6966" stroke="#1e1a1a" stroke-width="1"/><circle cx="458.2" cy="281.3" r="1.65" fill="#6e6966" stroke="#1e1a1a" stroke-width="1"/><circle cx="455.6" cy="282.6" r="1.65" fill="#6e6966" stroke="#1e1a1a" stroke-width="1"/><circle cx="450.8" cy="284.5" r="1.65" fill="#6e6966" stroke="#1e1a1a" stroke-width="1"/><circle cx="454.2" cy="287.7" r="1.65" fill="#6e6966" stroke="#1e1a1a" stroke-width="1"/><circle cx="453.6" cy="289.9" r="1.65" fill="#6e6966" stroke="#1e1a1a" stroke-width="1"/><circle cx="468.5" cy="287.2" r="1.65" fill="#6e6966" stroke="#1e1a1a" stroke-width="1"/><circle cx="469.9" cy="290.4" r="1.65" fill="#6e6966" stroke="#1e1a1a" stroke-width="1"/><circle cx="469.6" cy="291.8" r="1.65" fill="#6e6966" stroke="#1e1a1a" stroke-width="1"/><circle cx="477.3" cy="294.9" r="1.65" fill="#6e6966" stroke="#1e1a1a" stroke-width="1"/><circle cx="454.5" cy="295.8" r="1.65" fill="#6e6966" stroke="#1e1a1a" stroke-width="1"/><circle cx="457.9" cy="297.4" r="1.65" fill="#6e6966" stroke="#1e1a1a" stroke-width="1"/><circle cx="460.7" cy="297.4" r="1.65" fill="#6e6966" stroke="#1e1a1a" stroke-width="1"/><circle cx="468.5" cy="295.8" r="1.65" fill="#6e6966" stroke="#1e1a1a" stroke-width="1"/><circle cx="443.1" cy="297.7" r="1.65" fill="#6e6966" stroke="#1e1a1a" stroke-width="1"/><circle cx="444.2" cy="298.7" r="1.65" fill="#6e6966" stroke="#1e1a1a" stroke-width="1"/><circle cx="446.4" cy="300.8" r="1.65" fill="#6e6966" stroke="#1e1a1a" stroke-width="1"/><circle cx="443.1" cy="304.8" r="1.65" fill="#6e6966" stroke="#1e1a1a" stroke-width="1"/><circle cx="448.0" cy="305.1" r="1.65" fill="#6e6966" stroke="#1e1a1a" stroke-width="1"/><circle cx="451.5" cy="307.4" r="1.65" fill="#6e6966" stroke="#1e1a1a" stroke-width="1"/><circle cx="433.8" cy="305.7" r="1.65" fill="#6e6966" stroke="#1e1a1a" stroke-width="1"/><circle cx="435.1" cy="306.7" r="1.65" fill="#6e6966" stroke="#1e1a1a" stroke-width="1"/><circle cx="444.0" cy="311.4" r="1.65" fill="#6e6966" stroke="#1e1a1a" stroke-width="1"/><circle cx="412.6" cy="305.7" r="1.65" fill="#6e6966" stroke="#1e1a1a" stroke-width="1"/><circle cx="498.7" cy="262.9" r="1.65" fill="#6e6966" stroke="#1e1a1a" stroke-width="1"/><circle cx="499.7" cy="266.3" r="1.65" fill="#6e6966" stroke="#1e1a1a" stroke-width="1"/><circle cx="502.6" cy="266.3" r="1.65" fill="#6e6966" stroke="#1e1a1a" stroke-width="1"/><circle cx="504.6" cy="267.2" r="1.65" fill="#6e6966" stroke="#1e1a1a" stroke-width="1"/><circle cx="511.7" cy="265.5" r="1.65" fill="#6e6966" stroke="#1e1a1a" stroke-width="1"/><circle cx="518.6" cy="265.6" r="1.65" fill="#6e6966" stroke="#1e1a1a" stroke-width="1"/><circle cx="510.7" cy="268.7" r="1.65" fill="#6e6966" stroke="#1e1a1a" stroke-width="1"/><circle cx="487.0" cy="269.1" r="1.65" fill="#6e6966" stroke="#1e1a1a" stroke-width="1"/><circle cx="491.2" cy="267.2" r="1.65" fill="#6e6966" stroke="#1e1a1a" stroke-width="1"/><circle cx="491.0" cy="269.6" r="1.65" fill="#6e6966" stroke="#1e1a1a" stroke-width="1"/><circle cx="492.0" cy="269.8" r="1.65" fill="#6e6966" stroke="#1e1a1a" stroke-width="1"/><circle cx="496.9" cy="271.6" r="1.65" fill="#6e6966" stroke="#1e1a1a" stroke-width="1"/><circle cx="496.6" cy="273.1" r="1.65" fill="#6e6966" stroke="#1e1a1a" stroke-width="1"/><circle cx="506.6" cy="273.4" r="1.65" fill="#6e6966" stroke="#1e1a1a" stroke-width="1"/><circle cx="490.7" cy="275.5" r="1.65" fill="#6e6966" stroke="#1e1a1a" stroke-width="1"/><circle cx="489.2" cy="277.2" r="1.65" fill="#6e6966" stroke="#1e1a1a" stroke-width="1"/><circle cx="494.7" cy="275.3" r="1.65" fill="#6e6966" stroke="#1e1a1a" stroke-width="1"/><circle cx="500.7" cy="275.6" r="1.65" fill="#6e6966" stroke="#1e1a1a" stroke-width="1"/><circle cx="493.2" cy="284.6" r="1.65" fill="#6e6966" stroke="#1e1a1a" stroke-width="1"/><circle cx="487.6" cy="287.8" r="1.65" fill="#6e6966" stroke="#1e1a1a" stroke-width="1"/><circle cx="488.7" cy="291.0" r="1.65" fill="#6e6966" stroke="#1e1a1a" stroke-width="1"/><circle cx="498.2" cy="288.4" r="1.65" fill="#6e6966" stroke="#1e1a1a" stroke-width="1"/><circle cx="487.6" cy="297.6" r="1.65" fill="#6e6966" stroke="#1e1a1a" stroke-width="1"/><circle cx="499.7" cy="296.5" r="1.65" fill="#6e6966" stroke="#1e1a1a" stroke-width="1"/><circle cx="493.9" cy="300.8" r="1.65" fill="#6e6966" stroke="#1e1a1a" stroke-width="1"/><circle cx="506.9" cy="299.9" r="1.65" fill="#6e6966" stroke="#1e1a1a" stroke-width="1"/><circle cx="509.9" cy="300.6" r="1.65" fill="#6e6966" stroke="#1e1a1a" stroke-width="1"/><circle cx="505.9" cy="306.2" r="1.65" fill="#6e6966" stroke="#1e1a1a" stroke-width="1"/><circle cx="481.8" cy="306.7" r="1.65" fill="#6e6966" stroke="#1e1a1a" stroke-width="1"/><circle cx="485.9" cy="307.7" r="1.65" fill="#6e6966" stroke="#1e1a1a" stroke-width="1"/><circle cx="487.8" cy="308.2" r="1.65" fill="#6e6966" stroke="#1e1a1a" stroke-width="1"/><circle cx="483.2" cy="310.0" r="1.65" fill="#6e6966" stroke="#1e1a1a" stroke-width="1"/><circle cx="487.6" cy="311.3" r="1.65" fill="#6e6966" stroke="#1e1a1a" stroke-width="1"/><circle cx="491.5" cy="310.0" r="1.65" fill="#6e6966" stroke="#1e1a1a" stroke-width="1"/><circle cx="479.9" cy="311.0" r="1.65" fill="#6e6966" stroke="#1e1a1a" stroke-width="1"/><circle cx="482.2" cy="314.8" r="1.65" fill="#6e6966" stroke="#1e1a1a" stroke-width="1"/><circle cx="478.9" cy="318.1" r="1.65" fill="#6e6966" stroke="#1e1a1a" stroke-width="1"/><circle cx="477.1" cy="313.5" r="1.65" fill="#6e6966" stroke="#1e1a1a" stroke-width="1"/><circle cx="471.7" cy="316.3" r="1.65" fill="#6e6966" stroke="#1e1a1a" stroke-width="1"/><circle cx="475.9" cy="317.2" r="1.65" fill="#6e6966" stroke="#1e1a1a" stroke-width="1"/><circle cx="476.5" cy="321.2" r="1.65" fill="#6e6966" stroke="#1e1a1a" stroke-width="1"/><circle cx="478.4" cy="321.0" r="1.65" fill="#6e6966" stroke="#1e1a1a" stroke-width="1"/><circle cx="470.6" cy="324.3" r="1.65" fill="#6e6966" stroke="#1e1a1a" stroke-width="1"/><circle cx="483.0" cy="323.9" r="1.65" fill="#6e6966" stroke="#1e1a1a" stroke-width="1"/><circle cx="470.4" cy="280.8" r="1.65" fill="#6e6966" stroke="#1e1a1a" stroke-width="1"/>
<circle cx="427.1" cy="267.3" r="1.65" fill="#3a4a86" stroke="#1e1a1a" stroke-width="1"/><circle cx="434.1" cy="267.6" r="1.65" fill="#3a4a86" stroke="#1e1a1a" stroke-width="1"/><circle cx="430.3" cy="271.3" r="1.65" fill="#3a4a86" stroke="#1e1a1a" stroke-width="1"/><circle cx="410.0" cy="272.2" r="1.65" fill="#3a4a86" stroke="#1e1a1a" stroke-width="1"/><circle cx="423.0" cy="274.2" r="1.65" fill="#3a4a86" stroke="#1e1a1a" stroke-width="1"/><circle cx="425.5" cy="274.7" r="1.65" fill="#5e9ea8" stroke="#1e1a1a" stroke-width="1"/><circle cx="425.9" cy="275.6" r="1.65" fill="#5e9ea8" stroke="#1e1a1a" stroke-width="1"/><circle cx="435.0" cy="274.2" r="1.65" fill="#3a4a86" stroke="#1e1a1a" stroke-width="1"/><circle cx="420.2" cy="277.0" r="1.65" fill="#5e9ea8" stroke="#1e1a1a" stroke-width="1"/><circle cx="415.3" cy="277.4" r="1.65" fill="#5e9ea8" stroke="#1e1a1a" stroke-width="1"/><circle cx="412.5" cy="279.6" r="1.65" fill="#5e9ea8" stroke="#1e1a1a" stroke-width="1"/><circle cx="408.2" cy="280.3" r="1.65" fill="#5e9ea8" stroke="#1e1a1a" stroke-width="1"/><circle cx="425.0" cy="280.3" r="1.65" fill="#5e9ea8" stroke="#1e1a1a" stroke-width="1"/><circle cx="428.5" cy="280.6" r="1.65" fill="#5e9ea8" stroke="#1e1a1a" stroke-width="1"/><circle cx="430.6" cy="282.3" r="1.65" fill="#5e9ea8" stroke="#1e1a1a" stroke-width="1"/><circle cx="432.8" cy="282.2" r="1.65" fill="#5e9ea8" stroke="#1e1a1a" stroke-width="1"/><circle cx="425.7" cy="283.3" r="1.65" fill="#5e9ea8" stroke="#1e1a1a" stroke-width="1"/><circle cx="408.4" cy="282.9" r="1.65" fill="#5e9ea8" stroke="#1e1a1a" stroke-width="1"/><circle cx="421.3" cy="286.6" r="1.65" fill="#d07a44" stroke="#1e1a1a" stroke-width="1"/><circle cx="420.4" cy="289.5" r="1.65" fill="#d07a44" stroke="#1e1a1a" stroke-width="1"/><circle cx="426.4" cy="289.3" r="1.65" fill="#d07a44" stroke="#1e1a1a" stroke-width="1"/><circle cx="431.9" cy="292.2" r="1.65" fill="#a82c26" stroke="#1e1a1a" stroke-width="1"/><circle cx="403.6" cy="293.4" r="1.65" fill="#a82c26" stroke="#1e1a1a" stroke-width="1"/><circle cx="413.5" cy="292.7" r="1.65" fill="#a82c26" stroke="#1e1a1a" stroke-width="1"/><circle cx="419.7" cy="293.1" r="1.65" fill="#a82c26" stroke="#1e1a1a" stroke-width="1"/><circle cx="425.5" cy="292.7" r="1.65" fill="#a82c26" stroke="#1e1a1a" stroke-width="1"/><circle cx="428.0" cy="294.5" r="1.65" fill="#a82c26" stroke="#1e1a1a" stroke-width="1"/><circle cx="394.1" cy="295.4" r="1.65" fill="#a82c26" stroke="#1e1a1a" stroke-width="1"/><circle cx="398.5" cy="296.8" r="1.65" fill="#a82c26" stroke="#1e1a1a" stroke-width="1"/><circle cx="419.5" cy="295.8" r="1.65" fill="#a82c26" stroke="#1e1a1a" stroke-width="1"/><circle cx="423.3" cy="295.8" r="1.65" fill="#a82c26" stroke="#1e1a1a" stroke-width="1"/><circle cx="413.5" cy="296.6" r="1.65" fill="#a82c26" stroke="#1e1a1a" stroke-width="1"/><circle cx="427.3" cy="297.2" r="1.65" fill="#a82c26" stroke="#1e1a1a" stroke-width="1"/><circle cx="404.2" cy="298.6" r="1.65" fill="#a82c26" stroke="#1e1a1a" stroke-width="1"/><circle cx="409.3" cy="299.3" r="1.65" fill="#a82c26" stroke="#1e1a1a" stroke-width="1"/><circle cx="420.2" cy="302.9" r="1.65" fill="#a82c26" stroke="#1e1a1a" stroke-width="1"/><circle cx="440.8" cy="262.8" r="1.65" fill="#3a4a86" stroke="#1e1a1a" stroke-width="1"/><circle cx="444.0" cy="278.5" r="1.65" fill="#5e9ea8" stroke="#1e1a1a" stroke-width="1"/><circle cx="442.6" cy="289.5" r="1.65" fill="#d07a44" stroke="#1e1a1a" stroke-width="1"/>
<line x1="428.8" y1="244.6" x2="408.8" y2="313.5" stroke="#2b2b2b" stroke-width="1.3"/><polygon points="406.6,321.2 403.8,310.0 408.7,314.0 415.0,313.2" fill="#2b2b2b"/>
</g>
<rect x="375.1" y="223.9" width="150.69999999999993" height="138.6" fill="none" stroke="#d8d2ce" stroke-width="0.8"/>
<text x="395.0" y="373.6" font-size="10" text-anchor="middle" fill="#231f20" >-6</text>
<text x="372.1" y="348.3" font-size="10" text-anchor="end" fill="#231f20" >-6</text>
<text x="413.4" y="373.6" font-size="10" text-anchor="middle" fill="#231f20" >-4</text>
<text x="372.1" y="330.3" font-size="10" text-anchor="end" fill="#231f20" >-4</text>
<text x="431.8" y="373.6" font-size="10" text-anchor="middle" fill="#231f20" >-2</text>
<text x="372.1" y="312.2" font-size="10" text-anchor="end" fill="#231f20" >-2</text>
<text x="450.2" y="373.6" font-size="10" text-anchor="middle" fill="#231f20" >0</text>
<text x="372.1" y="294.2" font-size="10" text-anchor="end" fill="#231f20" >0</text>
<text x="468.6" y="373.6" font-size="10" text-anchor="middle" fill="#231f20" >2</text>
<text x="372.1" y="276.1" font-size="10" text-anchor="end" fill="#231f20" >2</text>
<text x="487.0" y="373.6" font-size="10" text-anchor="middle" fill="#231f20" >4</text>
<text x="372.1" y="258.0" font-size="10" text-anchor="end" fill="#231f20" >4</text>
<text x="505.4" y="373.6" font-size="10" text-anchor="middle" fill="#231f20" >6</text>
<text x="372.1" y="240.0" font-size="10" text-anchor="end" fill="#231f20" >6</text>
<text x="450.4" y="384.5" font-size="10" text-anchor="middle" fill="#231f20" >PC 1</text>
<text transform="translate(360.6,290.1) rotate(-90)" font-size="9.5" text-anchor="middle" fill="#231f20">PC 2</text>
<text x="451.4" y="219.8" font-size="14" text-anchor="middle" fill="#231f20" textLength="115" lengthAdjust="spacingAndGlyphs" >Spatial offset 8 mm</text>
<clipPath id="cp4"><rect x="555.8" y="223.9" width="151.10000000000002" height="138.6"/></clipPath>
<g clip-path="url(#cp4)">
<rect x="555" y="223" width="152" height="140" fill="#f3f1ef"/><polygon points="620.0,205.0 725.0,205.0 725.0,380.0 592.0,380.0 594.0,330.0 600.0,290.0 608.0,250.0" fill="#d6cfcb" filter="url(#bl9)"/><polygon points="554.0,229.0 556.6,231.5 561.0,238.5 564.5,245.6 570.7,254.4 573.3,263.1 576.8,270.2 581.2,277.2 584.8,283.4 583.0,288.6 579.5,294.8 575.1,301.8 568.1,307.1 561.0,310.6 556.6,312.4 554.0,312.5" fill="#eef4f9"/><polyline points="554.0,229.0 556.6,231.5 561.0,238.5 564.5,245.6 570.7,254.4 573.3,263.1 576.8,270.2 581.2,277.2 584.8,283.4 583.0,288.6 579.5,294.8 575.1,301.8 568.1,307.1 561.0,310.6 556.6,312.4 554.0,312.5" fill="none" stroke="#f4845a" stroke-width="1.3" stroke-linejoin="round"/><polyline points="554.0,233.0 558.0,236.0 562.0,243.0 566.0,250.0 569.5,256.0 572.0,264.0 575.5,271.0 580.0,278.5 582.5,283.5 581.0,288.0 577.5,294.0 573.5,300.0 567.0,305.0 560.0,308.5 554.0,310.0" fill="none" stroke="#a8d8ee" stroke-width="3" stroke-linejoin="round"/><polyline points="554.0,250.5 569.8,262.0 576.0,270.5 581.0,278.0" fill="none" stroke="#86c6e4" stroke-width="2.2" stroke-linejoin="round"/><polyline points="554.0,252.2 569.4,263.6 575.5,272.0 580.4,279.5" fill="none" stroke="#5070b8" stroke-width="1.4" stroke-linejoin="round"/><polyline points="554.0,255.3 566.1,265.6 573.0,273.8 578.0,280.8" fill="none" stroke="#86c6e4" stroke-width="1.5" stroke-linejoin="round"/><polyline points="554.0,256.5 566.1,266.8 573.0,275.0 578.0,282.0" fill="none" stroke="#4a68b0" stroke-width="1.3" stroke-linejoin="round"/><polyline points="554.0,284.2 577.0,284.2 580.0,287.0" fill="none" stroke="#86c6e4" stroke-width="2.2" stroke-linejoin="round"/><polyline points="554.0,288.6 576.0,288.6" fill="none" stroke="#4c62a8" stroke-width="1.3" stroke-linejoin="round"/><polyline points="554.0,294.8 574.0,294.8" fill="none" stroke="#86c6e4" stroke-width="2" stroke-linejoin="round"/><polyline points="554.0,296.5 571.0,296.5" fill="none" stroke="#4c62a8" stroke-width="1.3" stroke-linejoin="round"/>
<circle cx="608.0" cy="267.3" r="1.65" fill="#6e6966" stroke="#1e1a1a" stroke-width="1"/><circle cx="614.9" cy="267.6" r="1.65" fill="#6e6966" stroke="#1e1a1a" stroke-width="1"/><circle cx="611.2" cy="271.3" r="1.65" fill="#6e6966" stroke="#1e1a1a" stroke-width="1"/><circle cx="590.8" cy="272.2" r="1.65" fill="#6e6966" stroke="#1e1a1a" stroke-width="1"/><circle cx="603.8" cy="274.2" r="1.65" fill="#6e6966" stroke="#1e1a1a" stroke-width="1"/><circle cx="606.3" cy="274.7" r="1.65" fill="#6e6966" stroke="#1e1a1a" stroke-width="1"/><circle cx="606.8" cy="275.6" r="1.65" fill="#6e6966" stroke="#1e1a1a" stroke-width="1"/><circle cx="615.8" cy="274.2" r="1.65" fill="#6e6966" stroke="#1e1a1a" stroke-width="1"/><circle cx="601.0" cy="277.0" r="1.65" fill="#6e6966" stroke="#1e1a1a" stroke-width="1"/><circle cx="596.1" cy="277.4" r="1.65" fill="#6e6966" stroke="#1e1a1a" stroke-width="1"/><circle cx="593.3" cy="279.6" r="1.65" fill="#6e6966" stroke="#1e1a1a" stroke-width="1"/><circle cx="589.0" cy="280.3" r="1.65" fill="#6e6966" stroke="#1e1a1a" stroke-width="1"/><circle cx="605.8" cy="280.3" r="1.65" fill="#6e6966" stroke="#1e1a1a" stroke-width="1"/><circle cx="609.4" cy="280.6" r="1.65" fill="#6e6966" stroke="#1e1a1a" stroke-width="1"/><circle cx="611.4" cy="282.3" r="1.65" fill="#6e6966" stroke="#1e1a1a" stroke-width="1"/><circle cx="613.7" cy="282.2" r="1.65" fill="#6e6966" stroke="#1e1a1a" stroke-width="1"/><circle cx="606.6" cy="283.3" r="1.65" fill="#6e6966" stroke="#1e1a1a" stroke-width="1"/><circle cx="589.2" cy="282.9" r="1.65" fill="#6e6966" stroke="#1e1a1a" stroke-width="1"/><circle cx="602.1" cy="286.6" r="1.65" fill="#6e6966" stroke="#1e1a1a" stroke-width="1"/><circle cx="601.2" cy="289.5" r="1.65" fill="#6e6966" stroke="#1e1a1a" stroke-width="1"/><circle cx="607.2" cy="289.3" r="1.65" fill="#6e6966" stroke="#1e1a1a" stroke-width="1"/><circle cx="612.8" cy="292.2" r="1.65" fill="#6e6966" stroke="#1e1a1a" stroke-width="1"/><circle cx="584.3" cy="293.4" r="1.65" fill="#6e6966" stroke="#1e1a1a" stroke-width="1"/><circle cx="594.3" cy="292.7" r="1.65" fill="#6e6966" stroke="#1e1a1a" stroke-width="1"/><circle cx="600.5" cy="293.1" r="1.65" fill="#6e6966" stroke="#1e1a1a" stroke-width="1"/><circle cx="606.3" cy="292.7" r="1.65" fill="#6e6966" stroke="#1e1a1a" stroke-width="1"/><circle cx="608.8" cy="294.5" r="1.65" fill="#6e6966" stroke="#1e1a1a" stroke-width="1"/><circle cx="574.8" cy="295.4" r="1.65" fill="#6e6966" stroke="#1e1a1a" stroke-width="1"/><circle cx="579.2" cy="296.8" r="1.65" fill="#6e6966" stroke="#1e1a1a" stroke-width="1"/><circle cx="600.3" cy="295.8" r="1.65" fill="#6e6966" stroke="#1e1a1a" stroke-width="1"/><circle cx="604.2" cy="295.8" r="1.65" fill="#6e6966" stroke="#1e1a1a" stroke-width="1"/><circle cx="594.3" cy="296.6" r="1.65" fill="#6e6966" stroke="#1e1a1a" stroke-width="1"/><circle cx="608.1" cy="297.2" r="1.65" fill="#6e6966" stroke="#1e1a1a" stroke-width="1"/><circle cx="585.0" cy="298.6" r="1.65" fill="#6e6966" stroke="#1e1a1a" stroke-width="1"/><circle cx="590.1" cy="299.3" r="1.65" fill="#6e6966" stroke="#1e1a1a" stroke-width="1"/><circle cx="601.0" cy="302.9" r="1.65" fill="#6e6966" stroke="#1e1a1a" stroke-width="1"/><circle cx="621.7" cy="262.8" r="1.65" fill="#6e6966" stroke="#1e1a1a" stroke-width="1"/><circle cx="624.9" cy="278.5" r="1.65" fill="#6e6966" stroke="#1e1a1a" stroke-width="1"/><circle cx="623.5" cy="289.5" r="1.65" fill="#6e6966" stroke="#1e1a1a" stroke-width="1"/><circle cx="611.7" cy="277.8" r="1.65" fill="#6e6966" stroke="#1e1a1a" stroke-width="1"/><circle cx="604.9" cy="293.1" r="1.65" fill="#6e6966" stroke="#1e1a1a" stroke-width="1"/><circle cx="605.8" cy="302.9" r="1.65" fill="#6e6966" stroke="#1e1a1a" stroke-width="1"/><circle cx="615.6" cy="301.8" r="1.65" fill="#6e6966" stroke="#1e1a1a" stroke-width="1"/><circle cx="621.5" cy="272.8" r="1.65" fill="#6e6966" stroke="#1e1a1a" stroke-width="1"/><circle cx="623.7" cy="282.3" r="1.65" fill="#6e6966" stroke="#1e1a1a" stroke-width="1"/><circle cx="634.5" cy="264.0" r="1.65" fill="#6e6966" stroke="#1e1a1a" stroke-width="1"/><circle cx="644.7" cy="261.4" r="1.65" fill="#6e6966" stroke="#1e1a1a" stroke-width="1"/><circle cx="651.8" cy="262.1" r="1.65" fill="#6e6966" stroke="#1e1a1a" stroke-width="1"/><circle cx="648.5" cy="265.3" r="1.65" fill="#6e6966" stroke="#1e1a1a" stroke-width="1"/><circle cx="642.8" cy="268.1" r="1.65" fill="#6e6966" stroke="#1e1a1a" stroke-width="1"/><circle cx="633.5" cy="269.2" r="1.65" fill="#6e6966" stroke="#1e1a1a" stroke-width="1"/><circle cx="641.6" cy="274.0" r="1.65" fill="#6e6966" stroke="#1e1a1a" stroke-width="1"/><circle cx="649.3" cy="275.6" r="1.65" fill="#6e6966" stroke="#1e1a1a" stroke-width="1"/><circle cx="643.2" cy="278.8" r="1.65" fill="#6e6966" stroke="#1e1a1a" stroke-width="1"/><circle cx="635.6" cy="280.8" r="1.65" fill="#6e6966" stroke="#1e1a1a" stroke-width="1"/><circle cx="639.1" cy="281.3" r="1.65" fill="#6e6966" stroke="#1e1a1a" stroke-width="1"/><circle cx="636.5" cy="282.6" r="1.65" fill="#6e6966" stroke="#1e1a1a" stroke-width="1"/><circle cx="631.7" cy="284.5" r="1.65" fill="#6e6966" stroke="#1e1a1a" stroke-width="1"/><circle cx="635.1" cy="287.7" r="1.65" fill="#6e6966" stroke="#1e1a1a" stroke-width="1"/><circle cx="634.5" cy="289.9" r="1.65" fill="#6e6966" stroke="#1e1a1a" stroke-width="1"/><circle cx="649.5" cy="287.2" r="1.65" fill="#6e6966" stroke="#1e1a1a" stroke-width="1"/><circle cx="650.8" cy="290.4" r="1.65" fill="#6e6966" stroke="#1e1a1a" stroke-width="1"/><circle cx="650.6" cy="291.8" r="1.65" fill="#6e6966" stroke="#1e1a1a" stroke-width="1"/><circle cx="658.3" cy="294.9" r="1.65" fill="#6e6966" stroke="#1e1a1a" stroke-width="1"/><circle cx="635.4" cy="295.8" r="1.65" fill="#6e6966" stroke="#1e1a1a" stroke-width="1"/><circle cx="638.8" cy="297.4" r="1.65" fill="#6e6966" stroke="#1e1a1a" stroke-width="1"/><circle cx="641.6" cy="297.4" r="1.65" fill="#6e6966" stroke="#1e1a1a" stroke-width="1"/><circle cx="649.5" cy="295.8" r="1.65" fill="#6e6966" stroke="#1e1a1a" stroke-width="1"/><circle cx="624.0" cy="297.7" r="1.65" fill="#6e6966" stroke="#1e1a1a" stroke-width="1"/><circle cx="625.1" cy="298.7" r="1.65" fill="#6e6966" stroke="#1e1a1a" stroke-width="1"/><circle cx="627.2" cy="300.8" r="1.65" fill="#6e6966" stroke="#1e1a1a" stroke-width="1"/><circle cx="623.9" cy="304.8" r="1.65" fill="#6e6966" stroke="#1e1a1a" stroke-width="1"/><circle cx="628.9" cy="305.1" r="1.65" fill="#6e6966" stroke="#1e1a1a" stroke-width="1"/><circle cx="632.4" cy="307.4" r="1.65" fill="#6e6966" stroke="#1e1a1a" stroke-width="1"/><circle cx="614.7" cy="305.7" r="1.65" fill="#6e6966" stroke="#1e1a1a" stroke-width="1"/><circle cx="616.0" cy="306.7" r="1.65" fill="#6e6966" stroke="#1e1a1a" stroke-width="1"/><circle cx="624.9" cy="311.4" r="1.65" fill="#6e6966" stroke="#1e1a1a" stroke-width="1"/><circle cx="593.4" cy="305.7" r="1.65" fill="#6e6966" stroke="#1e1a1a" stroke-width="1"/><circle cx="679.7" cy="262.9" r="1.65" fill="#6e6966" stroke="#1e1a1a" stroke-width="1"/><circle cx="680.8" cy="266.3" r="1.65" fill="#6e6966" stroke="#1e1a1a" stroke-width="1"/><circle cx="683.6" cy="266.3" r="1.65" fill="#6e6966" stroke="#1e1a1a" stroke-width="1"/><circle cx="685.6" cy="267.2" r="1.65" fill="#6e6966" stroke="#1e1a1a" stroke-width="1"/><circle cx="692.7" cy="265.5" r="1.65" fill="#6e6966" stroke="#1e1a1a" stroke-width="1"/><circle cx="699.7" cy="265.6" r="1.65" fill="#6e6966" stroke="#1e1a1a" stroke-width="1"/><circle cx="691.8" cy="268.7" r="1.65" fill="#6e6966" stroke="#1e1a1a" stroke-width="1"/><circle cx="668.0" cy="269.1" r="1.65" fill="#6e6966" stroke="#1e1a1a" stroke-width="1"/><circle cx="672.2" cy="267.2" r="1.65" fill="#6e6966" stroke="#1e1a1a" stroke-width="1"/><circle cx="672.0" cy="269.6" r="1.65" fill="#6e6966" stroke="#1e1a1a" stroke-width="1"/><circle cx="673.0" cy="269.8" r="1.65" fill="#6e6966" stroke="#1e1a1a" stroke-width="1"/><circle cx="677.9" cy="271.6" r="1.65" fill="#6e6966" stroke="#1e1a1a" stroke-width="1"/><circle cx="677.6" cy="273.1" r="1.65" fill="#6e6966" stroke="#1e1a1a" stroke-width="1"/><circle cx="687.7" cy="273.4" r="1.65" fill="#6e6966" stroke="#1e1a1a" stroke-width="1"/><circle cx="671.7" cy="275.5" r="1.65" fill="#6e6966" stroke="#1e1a1a" stroke-width="1"/><circle cx="670.2" cy="277.2" r="1.65" fill="#6e6966" stroke="#1e1a1a" stroke-width="1"/><circle cx="675.7" cy="275.3" r="1.65" fill="#6e6966" stroke="#1e1a1a" stroke-width="1"/><circle cx="681.8" cy="275.6" r="1.65" fill="#6e6966" stroke="#1e1a1a" stroke-width="1"/><circle cx="674.2" cy="284.6" r="1.65" fill="#6e6966" stroke="#1e1a1a" stroke-width="1"/><circle cx="668.6" cy="287.8" r="1.65" fill="#6e6966" stroke="#1e1a1a" stroke-width="1"/><circle cx="669.7" cy="291.0" r="1.65" fill="#6e6966" stroke="#1e1a1a" stroke-width="1"/><circle cx="679.2" cy="288.4" r="1.65" fill="#6e6966" stroke="#1e1a1a" stroke-width="1"/><circle cx="668.6" cy="297.6" r="1.65" fill="#6e6966" stroke="#1e1a1a" stroke-width="1"/><circle cx="680.8" cy="296.5" r="1.65" fill="#6e6966" stroke="#1e1a1a" stroke-width="1"/><circle cx="674.9" cy="300.8" r="1.65" fill="#6e6966" stroke="#1e1a1a" stroke-width="1"/><circle cx="687.9" cy="299.9" r="1.65" fill="#6e6966" stroke="#1e1a1a" stroke-width="1"/><circle cx="691.0" cy="300.6" r="1.65" fill="#6e6966" stroke="#1e1a1a" stroke-width="1"/><circle cx="686.9" cy="306.2" r="1.65" fill="#6e6966" stroke="#1e1a1a" stroke-width="1"/><circle cx="662.8" cy="306.7" r="1.65" fill="#6e6966" stroke="#1e1a1a" stroke-width="1"/><circle cx="666.8" cy="307.7" r="1.65" fill="#6e6966" stroke="#1e1a1a" stroke-width="1"/><circle cx="668.8" cy="308.2" r="1.65" fill="#6e6966" stroke="#1e1a1a" stroke-width="1"/><circle cx="664.1" cy="310.0" r="1.65" fill="#6e6966" stroke="#1e1a1a" stroke-width="1"/><circle cx="668.6" cy="311.3" r="1.65" fill="#6e6966" stroke="#1e1a1a" stroke-width="1"/><circle cx="672.5" cy="310.0" r="1.65" fill="#6e6966" stroke="#1e1a1a" stroke-width="1"/><circle cx="660.9" cy="311.0" r="1.65" fill="#6e6966" stroke="#1e1a1a" stroke-width="1"/><circle cx="663.2" cy="314.8" r="1.65" fill="#6e6966" stroke="#1e1a1a" stroke-width="1"/><circle cx="659.9" cy="318.1" r="1.65" fill="#6e6966" stroke="#1e1a1a" stroke-width="1"/><circle cx="658.0" cy="313.5" r="1.65" fill="#6e6966" stroke="#1e1a1a" stroke-width="1"/><circle cx="652.6" cy="316.3" r="1.65" fill="#6e6966" stroke="#1e1a1a" stroke-width="1"/><circle cx="656.9" cy="317.2" r="1.65" fill="#6e6966" stroke="#1e1a1a" stroke-width="1"/><circle cx="657.5" cy="321.2" r="1.65" fill="#6e6966" stroke="#1e1a1a" stroke-width="1"/><circle cx="659.4" cy="321.0" r="1.65" fill="#6e6966" stroke="#1e1a1a" stroke-width="1"/><circle cx="651.5" cy="324.3" r="1.65" fill="#6e6966" stroke="#1e1a1a" stroke-width="1"/><circle cx="664.0" cy="323.9" r="1.65" fill="#6e6966" stroke="#1e1a1a" stroke-width="1"/><circle cx="651.4" cy="280.8" r="1.65" fill="#6e6966" stroke="#1e1a1a" stroke-width="1"/>
<circle cx="611.7" cy="266.7" r="1.65" fill="#3a4a86" stroke="#1e1a1a" stroke-width="1"/><circle cx="589.2" cy="272.6" r="1.65" fill="#3a4a86" stroke="#1e1a1a" stroke-width="1"/><circle cx="593.6" cy="274.7" r="1.65" fill="#3a4a86" stroke="#1e1a1a" stroke-width="1"/><circle cx="604.2" cy="277.2" r="1.65" fill="#5e9ea8" stroke="#1e1a1a" stroke-width="1"/><circle cx="591.0" cy="280.2" r="1.65" fill="#3a4a86" stroke="#1e1a1a" stroke-width="1"/><circle cx="572.3" cy="281.7" r="1.65" fill="#3a4a86" stroke="#1e1a1a" stroke-width="1"/><circle cx="576.9" cy="285.1" r="1.65" fill="#a82c26" stroke="#1e1a1a" stroke-width="1"/><circle cx="579.0" cy="286.0" r="1.65" fill="#a82c26" stroke="#1e1a1a" stroke-width="1"/><circle cx="582.5" cy="285.7" r="1.65" fill="#d07a44" stroke="#1e1a1a" stroke-width="1"/><circle cx="589.9" cy="284.5" r="1.65" fill="#3a4a86" stroke="#1e1a1a" stroke-width="1"/><circle cx="570.9" cy="289.5" r="1.65" fill="#a82c26" stroke="#1e1a1a" stroke-width="1"/><circle cx="572.7" cy="289.9" r="1.65" fill="#a82c26" stroke="#1e1a1a" stroke-width="1"/><circle cx="577.1" cy="289.0" r="1.65" fill="#a82c26" stroke="#1e1a1a" stroke-width="1"/><circle cx="583.1" cy="289.5" r="1.65" fill="#d07a44" stroke="#1e1a1a" stroke-width="1"/><circle cx="589.0" cy="288.6" r="1.65" fill="#d07a44" stroke="#1e1a1a" stroke-width="1"/><circle cx="562.1" cy="291.9" r="1.65" fill="#d07a44" stroke="#1e1a1a" stroke-width="1"/><circle cx="570.2" cy="297.7" r="1.65" fill="#a82c26" stroke="#1e1a1a" stroke-width="1"/>
<line x1="572.2" y1="270.2" x2="561.7" y2="294.7" stroke="#2b2b2b" stroke-width="1.3"/><polygon points="558.5,302.0 557.1,290.5 561.5,295.1 567.8,295.1" fill="#2b2b2b"/>
</g>
<rect x="555.8" y="223.9" width="151.10000000000002" height="138.6" fill="none" stroke="#d8d2ce" stroke-width="0.8"/>
<text x="576.9" y="373.6" font-size="10" text-anchor="middle" fill="#231f20" >-6</text>
<text x="552.8" y="348.7" font-size="10" text-anchor="end" fill="#231f20" >-6</text>
<text x="595.4" y="373.6" font-size="10" text-anchor="middle" fill="#231f20" >-4</text>
<text x="552.8" y="330.6" font-size="10" text-anchor="end" fill="#231f20" >-4</text>
<text x="613.9" y="373.6" font-size="10" text-anchor="middle" fill="#231f20" >-2</text>
<text x="552.8" y="312.6" font-size="10" text-anchor="end" fill="#231f20" >-2</text>
<text x="632.4" y="373.6" font-size="10" text-anchor="middle" fill="#231f20" >0</text>
<text x="552.8" y="294.5" font-size="10" text-anchor="end" fill="#231f20" >0</text>
<text x="650.9" y="373.6" font-size="10" text-anchor="middle" fill="#231f20" >2</text>
<text x="552.8" y="276.4" font-size="10" text-anchor="end" fill="#231f20" >2</text>
<text x="669.4" y="373.6" font-size="10" text-anchor="middle" fill="#231f20" >4</text>
<text x="552.8" y="258.4" font-size="10" text-anchor="end" fill="#231f20" >4</text>
<text x="687.9" y="373.6" font-size="10" text-anchor="middle" fill="#231f20" >6</text>
<text x="552.8" y="240.3" font-size="10" text-anchor="end" fill="#231f20" >6</text>
<text x="631.3" y="384.5" font-size="10" text-anchor="middle" fill="#231f20" >PC 1</text>
<text transform="translate(541.3,290.4) rotate(-90)" font-size="9.5" text-anchor="middle" fill="#231f20">PC 2</text>
<text x="630.9" y="219.7" font-size="14" text-anchor="middle" fill="#231f20" textLength="122.3" lengthAdjust="spacingAndGlyphs" >Spatial offset 12 mm</text>
<rect x="0" y="0" width="720" height="1.6" fill="#3a3a3a"/><rect x="0" y="0" width="1.3" height="495" fill="#111"/><rect x="718.6" y="0" width="1.4" height="495" fill="#111"/><rect x="0" y="493.5" width="720" height="1.5" fill="#111"/>
</svg></body></html>
